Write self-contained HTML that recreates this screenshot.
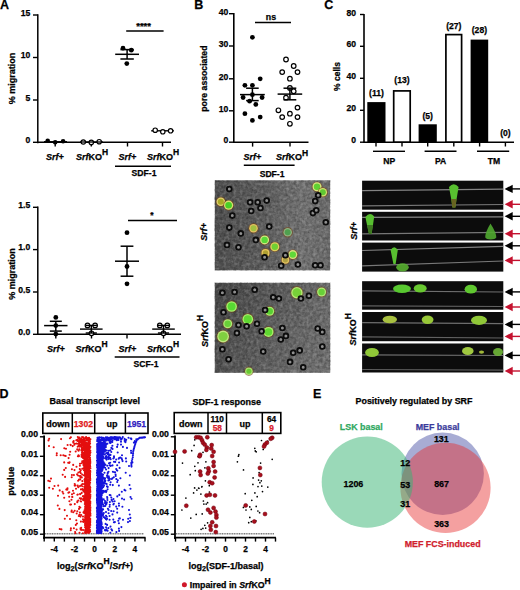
<!DOCTYPE html>
<html><head><meta charset="utf-8"><style>
html,body{margin:0;padding:0;background:#fff;width:520px;height:590px;overflow:hidden}
svg{display:block;font-family:"Liberation Sans",sans-serif;font-weight:bold;font-size:9px}
text{stroke:#000;stroke-width:0.25px}

</style></head><body>
<svg width="520" height="590" viewBox="0 0 520 590">
<defs>
<linearGradient id="mg1" x1="0" y1="0" x2="1" y2="0"><stop offset="0" stop-color="#4e4e4e"/><stop offset="0.45" stop-color="#5e5e5e"/><stop offset="0.75" stop-color="#737373"/><stop offset="1" stop-color="#6c6c6c"/></linearGradient>
<linearGradient id="mg2" x1="0" y1="0" x2="1" y2="0.3"><stop offset="0" stop-color="#444"/><stop offset="0.5" stop-color="#5a5a5a"/><stop offset="1" stop-color="#6e6e6e"/></linearGradient>
<filter id="soft" x="0" y="0" width="100%" height="100%"><feGaussianBlur stdDeviation="0.45"/></filter>
<filter id="noise1" x="0" y="0" width="100%" height="100%"><feTurbulence type="fractalNoise" baseFrequency="0.35" numOctaves="2" seed="3"/><feColorMatrix values="0 0 0 0 0  0 0 0 0 0  0 0 0 0 0  0.55 0 0 0 -0.2"/></filter>
<filter id="noise2" x="0" y="0" width="100%" height="100%"><feTurbulence type="fractalNoise" baseFrequency="0.35" numOctaves="2" seed="9"/><feColorMatrix values="0 0 0 0 0  0 0 0 0 0  0 0 0 0 0  0.55 0 0 0 -0.2"/></filter>
<filter id="noisew1" x="0" y="0" width="100%" height="100%"><feTurbulence type="fractalNoise" baseFrequency="0.3" numOctaves="2" seed="13"/><feColorMatrix values="0 0 0 0 1  0 0 0 0 1  0 0 0 0 1  0.45 0 0 0 -0.19"/></filter>
<filter id="noisew2" x="0" y="0" width="100%" height="100%"><feTurbulence type="fractalNoise" baseFrequency="0.3" numOctaves="2" seed="19"/><feColorMatrix values="0 0 0 0 1  0 0 0 0 1  0 0 0 0 1  0.45 0 0 0 -0.19"/></filter>
</defs>
<text x="0" y="8.6" font-size="12.5">A</text>
<line x1="37.8" y1="14.3" x2="37.8" y2="143.2" stroke="#000" stroke-width="1.5"/>
<line x1="33" y1="15" x2="37.8" y2="15" stroke="#000" stroke-width="1.4"/>
<text x="30.3" y="15.7" text-anchor="end" font-size="8.6">15</text>
<line x1="33" y1="57.5" x2="37.8" y2="57.5" stroke="#000" stroke-width="1.4"/>
<text x="30.3" y="58.2" text-anchor="end" font-size="8.6">10</text>
<line x1="33" y1="100" x2="37.8" y2="100" stroke="#000" stroke-width="1.4"/>
<text x="30.3" y="100.7" text-anchor="end" font-size="8.6">5</text>
<line x1="33" y1="142.3" x2="37.8" y2="142.3" stroke="#000" stroke-width="1.4"/>
<text x="30.3" y="143" text-anchor="end" font-size="8.6">0</text>
<text x="14.8" y="78.4" text-anchor="middle" transform="rotate(-90 14.8 78.4)">% migration</text>
<line x1="37.8" y1="142.3" x2="171" y2="142.3" stroke="#000" stroke-width="1.5"/>
<line x1="55.2" y1="142.3" x2="55.2" y2="146.5" stroke="#000" stroke-width="1.4"/>
<line x1="91.3" y1="142.3" x2="91.3" y2="146.5" stroke="#000" stroke-width="1.4"/>
<line x1="127.5" y1="142.3" x2="127.5" y2="146.5" stroke="#000" stroke-width="1.4"/>
<line x1="162.5" y1="142.3" x2="162.5" y2="146.5" stroke="#000" stroke-width="1.4"/>
<circle cx="47.7" cy="140.8" r="2.3" fill="#000"/>
<circle cx="55.2" cy="142.3" r="2.3" fill="#000"/>
<circle cx="63.1" cy="141.2" r="2.3" fill="#000"/>
<line x1="44" y1="141.8" x2="67" y2="141.8" stroke="#000" stroke-width="1.5"/>
<circle cx="83.3" cy="142" r="2.2" fill="#fff" stroke="#000" stroke-width="1.2"/>
<circle cx="91.3" cy="142.4" r="2.2" fill="#fff" stroke="#000" stroke-width="1.2"/>
<circle cx="99.2" cy="141.7" r="2.2" fill="#fff" stroke="#000" stroke-width="1.2"/>
<line x1="80" y1="142" x2="103" y2="142" stroke="#000" stroke-width="1.3"/>
<line x1="115.2" y1="54.3" x2="139" y2="54.3" stroke="#000" stroke-width="1.5"/>
<line x1="127.1" y1="49.6" x2="127.1" y2="59" stroke="#000" stroke-width="1.5"/>
<line x1="120.4" y1="49.6" x2="133.8" y2="49.6" stroke="#000" stroke-width="1.5"/>
<line x1="120.4" y1="59" x2="133.8" y2="59" stroke="#000" stroke-width="1.5"/>
<circle cx="123" cy="48.2" r="2.4" fill="#000"/>
<circle cx="131.3" cy="50.2" r="2.4" fill="#000"/>
<circle cx="126.8" cy="63.6" r="2.4" fill="#000"/>
<line x1="151.2" y1="130.8" x2="173.8" y2="130.8" stroke="#000" stroke-width="1.4"/>
<circle cx="155.2" cy="130.2" r="2.2" fill="#fff" stroke="#000" stroke-width="1.2"/>
<circle cx="162.8" cy="131.8" r="2.2" fill="#fff" stroke="#000" stroke-width="1.2"/>
<circle cx="170.6" cy="130.8" r="2.2" fill="#fff" stroke="#000" stroke-width="1.2"/>
<line x1="126.2" y1="31" x2="163.6" y2="31" stroke="#000" stroke-width="1.5"/>
<text x="143.6" y="29.2" text-anchor="middle" font-size="9.5">****</text>
<text x="54.8" y="159.6" text-anchor="middle" font-style="italic">Srf+</text>
<text x="92" y="159.6" text-anchor="middle"><tspan font-style="italic">Srf</tspan>KO<tspan dy="-4.5" font-size="8.5">H</tspan></text>
<text x="127.5" y="159.6" text-anchor="middle" font-style="italic">Srf+</text>
<text x="163" y="159.6" text-anchor="middle"><tspan font-style="italic">Srf</tspan>KO<tspan dy="-4.5" font-size="8.5">H</tspan></text>
<line x1="115" y1="166.3" x2="171" y2="166.3" stroke="#000" stroke-width="1.5"/>
<text x="144" y="175.8" text-anchor="middle" font-size="8.6">SDF-1</text>
<line x1="37.8" y1="206.5" x2="37.8" y2="335" stroke="#000" stroke-width="1.5"/>
<line x1="33" y1="207.3" x2="37.8" y2="207.3" stroke="#000" stroke-width="1.4"/>
<text x="30.3" y="208" text-anchor="end" font-size="8.6">1.5</text>
<line x1="33" y1="249.6" x2="37.8" y2="249.6" stroke="#000" stroke-width="1.4"/>
<text x="30.3" y="250.3" text-anchor="end" font-size="8.6">1.0</text>
<line x1="33" y1="292" x2="37.8" y2="292" stroke="#000" stroke-width="1.4"/>
<text x="30.3" y="292.7" text-anchor="end" font-size="8.6">0.5</text>
<line x1="33" y1="334.3" x2="37.8" y2="334.3" stroke="#000" stroke-width="1.4"/>
<text x="30.3" y="335" text-anchor="end" font-size="8.6">0.0</text>
<text x="14.8" y="274" text-anchor="middle" transform="rotate(-90 14.8 274)">% migration</text>
<line x1="37.8" y1="334.2" x2="181" y2="334.2" stroke="#000" stroke-width="1.5"/>
<line x1="55.8" y1="334.2" x2="55.8" y2="338.5" stroke="#000" stroke-width="1.4"/>
<line x1="91.5" y1="334.2" x2="91.5" y2="338.5" stroke="#000" stroke-width="1.4"/>
<line x1="127" y1="334.2" x2="127" y2="338.5" stroke="#000" stroke-width="1.4"/>
<line x1="163.5" y1="334.2" x2="163.5" y2="338.5" stroke="#000" stroke-width="1.4"/>
<line x1="44.1" y1="325.6" x2="67.5" y2="325.6" stroke="#000" stroke-width="1.5"/>
<line x1="55.8" y1="321.3" x2="55.8" y2="331.1" stroke="#000" stroke-width="1.5"/>
<line x1="49.8" y1="321.3" x2="61.8" y2="321.3" stroke="#000" stroke-width="1.5"/>
<line x1="49.8" y1="331.1" x2="61.8" y2="331.1" stroke="#000" stroke-width="1.5"/>
<circle cx="55.8" cy="317.4" r="2.4" fill="#000"/>
<circle cx="55.8" cy="325.6" r="2.4" fill="#000"/>
<circle cx="55.8" cy="334.1" r="2.4" fill="#000"/>
<circle cx="87.5" cy="325.4" r="2.3" fill="#fff" stroke="#000" stroke-width="1.2"/>
<circle cx="95.1" cy="325.4" r="2.3" fill="#fff" stroke="#000" stroke-width="1.2"/>
<circle cx="91.5" cy="333.3" r="2.3" fill="#fff" stroke="#000" stroke-width="1.2"/>
<line x1="80" y1="329.1" x2="102.6" y2="329.1" stroke="#000" stroke-width="1.4"/>
<line x1="91.3" y1="325.4" x2="91.3" y2="333" stroke="#000" stroke-width="1.4"/>
<line x1="85.7" y1="325.4" x2="96.9" y2="325.4" stroke="#000" stroke-width="1.4"/>
<line x1="85.7" y1="333" x2="96.9" y2="333" stroke="#000" stroke-width="1.4"/>
<line x1="115" y1="261.2" x2="139" y2="261.2" stroke="#000" stroke-width="1.5"/>
<line x1="127" y1="246.2" x2="127" y2="276.2" stroke="#000" stroke-width="1.5"/>
<line x1="120.6" y1="246.2" x2="133.4" y2="246.2" stroke="#000" stroke-width="1.5"/>
<line x1="120.6" y1="276.2" x2="133.4" y2="276.2" stroke="#000" stroke-width="1.5"/>
<circle cx="127" cy="232.7" r="2.4" fill="#000"/>
<circle cx="127" cy="266.5" r="2.4" fill="#000"/>
<circle cx="127" cy="283.8" r="2.4" fill="#000"/>
<circle cx="159.8" cy="325.4" r="2.3" fill="#fff" stroke="#000" stroke-width="1.2"/>
<circle cx="167.3" cy="325.4" r="2.3" fill="#fff" stroke="#000" stroke-width="1.2"/>
<circle cx="163.5" cy="333.3" r="2.3" fill="#fff" stroke="#000" stroke-width="1.2"/>
<line x1="152.2" y1="329.1" x2="174.8" y2="329.1" stroke="#000" stroke-width="1.4"/>
<line x1="163.5" y1="325.4" x2="163.5" y2="333" stroke="#000" stroke-width="1.4"/>
<line x1="157.9" y1="325.4" x2="169.1" y2="325.4" stroke="#000" stroke-width="1.4"/>
<line x1="157.9" y1="333" x2="169.1" y2="333" stroke="#000" stroke-width="1.4"/>
<line x1="128" y1="220.4" x2="177" y2="220.4" stroke="#000" stroke-width="1.5"/>
<text x="152" y="217.5" text-anchor="middle" font-size="8.5">*</text>
<text x="55.8" y="351.5" text-anchor="middle" font-style="italic">Srf+</text>
<text x="91.5" y="351.5" text-anchor="middle"><tspan font-style="italic">Srf</tspan>KO<tspan dy="-4.5" font-size="8.5">H</tspan></text>
<text x="127.5" y="351.5" text-anchor="middle" font-style="italic">Srf+</text>
<text x="163" y="351.5" text-anchor="middle"><tspan font-style="italic">Srf</tspan>KO<tspan dy="-4.5" font-size="8.5">H</tspan></text>
<line x1="114.7" y1="357" x2="179.5" y2="357" stroke="#000" stroke-width="1.5"/>
<text x="146" y="366.6" text-anchor="middle" font-size="8.6">SCF-1</text>
<text x="194.2" y="8.7" font-size="12.5">B</text>
<line x1="233.8" y1="13" x2="233.8" y2="143" stroke="#000" stroke-width="1.6"/>
<line x1="229" y1="13.7" x2="233.8" y2="13.7" stroke="#000" stroke-width="1.4"/>
<text x="228.3" y="14.8" text-anchor="end" font-size="8.6">40</text>
<line x1="229" y1="46" x2="233.8" y2="46" stroke="#000" stroke-width="1.4"/>
<text x="228.3" y="47.1" text-anchor="end" font-size="8.6">30</text>
<line x1="229" y1="78.8" x2="233.8" y2="78.8" stroke="#000" stroke-width="1.4"/>
<text x="228.3" y="79.9" text-anchor="end" font-size="8.6">20</text>
<line x1="229" y1="110.8" x2="233.8" y2="110.8" stroke="#000" stroke-width="1.4"/>
<text x="228.3" y="111.9" text-anchor="end" font-size="8.6">10</text>
<line x1="229" y1="142.2" x2="233.8" y2="142.2" stroke="#000" stroke-width="1.4"/>
<text x="228.3" y="143.3" text-anchor="end" font-size="8.6">0</text>
<text x="207.4" y="78.6" text-anchor="middle" font-size="8.7" transform="rotate(-90 207.4 78.6)">pore associated</text>
<line x1="233.8" y1="142.2" x2="308.5" y2="142.2" stroke="#000" stroke-width="1.5"/>
<line x1="252.6" y1="142.2" x2="252.6" y2="146.6" stroke="#000" stroke-width="1.4"/>
<line x1="290" y1="142.2" x2="290" y2="146.6" stroke="#000" stroke-width="1.4"/>
<line x1="240" y1="94.6" x2="264.8" y2="94.6" stroke="#000" stroke-width="1.5"/>
<line x1="252.4" y1="88.2" x2="252.4" y2="100.6" stroke="#000" stroke-width="1.5"/>
<line x1="246.1" y1="88.2" x2="258.7" y2="88.2" stroke="#000" stroke-width="1.5"/>
<line x1="246.1" y1="100.6" x2="258.7" y2="100.6" stroke="#000" stroke-width="1.5"/>
<circle cx="252.4" cy="37.3" r="2.4" fill="#000"/>
<circle cx="260.2" cy="78.8" r="2.4" fill="#000"/>
<circle cx="244.9" cy="85.3" r="2.4" fill="#000"/>
<circle cx="252.4" cy="85.3" r="2.4" fill="#000"/>
<circle cx="243.1" cy="97.5" r="2.4" fill="#000"/>
<circle cx="252.4" cy="94.7" r="2.4" fill="#000"/>
<circle cx="262.1" cy="97.5" r="2.4" fill="#000"/>
<circle cx="249.6" cy="101.2" r="2.4" fill="#000"/>
<circle cx="255.8" cy="104.4" r="2.4" fill="#000"/>
<circle cx="244.9" cy="113.7" r="2.4" fill="#000"/>
<circle cx="260.2" cy="117.1" r="2.4" fill="#000"/>
<circle cx="252.4" cy="120.4" r="2.4" fill="#000"/>
<circle cx="286" cy="59.5" r="2.3" fill="#fff" stroke="#000" stroke-width="1.2"/>
<circle cx="293.7" cy="66" r="2.3" fill="#fff" stroke="#000" stroke-width="1.2"/>
<circle cx="282.2" cy="72.1" r="2.3" fill="#fff" stroke="#000" stroke-width="1.2"/>
<circle cx="297.5" cy="72.1" r="2.3" fill="#fff" stroke="#000" stroke-width="1.2"/>
<circle cx="289.9" cy="78.7" r="2.3" fill="#fff" stroke="#000" stroke-width="1.2"/>
<circle cx="289.9" cy="87.9" r="2.3" fill="#fff" stroke="#000" stroke-width="1.2"/>
<circle cx="293.7" cy="91.3" r="2.3" fill="#fff" stroke="#000" stroke-width="1.2"/>
<circle cx="286" cy="97.7" r="2.3" fill="#fff" stroke="#000" stroke-width="1.2"/>
<circle cx="278.4" cy="110.3" r="2.3" fill="#fff" stroke="#000" stroke-width="1.2"/>
<circle cx="297.5" cy="107.6" r="2.3" fill="#fff" stroke="#000" stroke-width="1.2"/>
<circle cx="282.2" cy="117.1" r="2.3" fill="#fff" stroke="#000" stroke-width="1.2"/>
<circle cx="289.9" cy="113.7" r="2.3" fill="#fff" stroke="#000" stroke-width="1.2"/>
<circle cx="297.5" cy="117.1" r="2.3" fill="#fff" stroke="#000" stroke-width="1.2"/>
<circle cx="289.9" cy="123.8" r="2.3" fill="#fff" stroke="#000" stroke-width="1.2"/>
<line x1="277.6" y1="94.1" x2="302.2" y2="94.1" stroke="#000" stroke-width="1.5"/>
<line x1="289.9" y1="88.2" x2="289.9" y2="99.8" stroke="#000" stroke-width="1.5"/>
<line x1="283.5" y1="88.2" x2="296.3" y2="88.2" stroke="#000" stroke-width="1.5"/>
<line x1="283.5" y1="99.8" x2="296.3" y2="99.8" stroke="#000" stroke-width="1.5"/>
<line x1="255" y1="22.6" x2="291" y2="22.6" stroke="#000" stroke-width="1.5"/>
<text x="271" y="19.5" text-anchor="middle" font-size="8.8">ns</text>
<text x="252.5" y="160" text-anchor="middle" font-style="italic">Srf+</text>
<text x="292" y="160" text-anchor="middle"><tspan font-style="italic">Srf</tspan>KO<tspan dy="-4.5" font-size="8.5">H</tspan></text>
<line x1="243.8" y1="165.3" x2="294.6" y2="165.3" stroke="#000" stroke-width="1.5"/>
<text x="272.1" y="177.2" text-anchor="middle" font-size="8.6">SDF-1</text>
<text x="324.3" y="8.7" font-size="12.5">C</text>
<line x1="364" y1="14" x2="364" y2="143" stroke="#000" stroke-width="1.6"/>
<line x1="360" y1="14.5" x2="364" y2="14.5" stroke="#000" stroke-width="1.4"/>
<text x="356" y="15.5" text-anchor="end" font-size="8.6">80</text>
<line x1="360" y1="46.3" x2="364" y2="46.3" stroke="#000" stroke-width="1.4"/>
<text x="356" y="47.3" text-anchor="end" font-size="8.6">60</text>
<line x1="360" y1="78.3" x2="364" y2="78.3" stroke="#000" stroke-width="1.4"/>
<text x="356" y="79.3" text-anchor="end" font-size="8.6">40</text>
<line x1="360" y1="110.3" x2="364" y2="110.3" stroke="#000" stroke-width="1.4"/>
<text x="356" y="111.3" text-anchor="end" font-size="8.6">20</text>
<line x1="360" y1="142.2" x2="364" y2="142.2" stroke="#000" stroke-width="1.4"/>
<text x="356" y="143.2" text-anchor="end" font-size="8.6">0</text>
<text x="340.2" y="76.5" text-anchor="middle" font-size="8.5" transform="rotate(-90 340.2 76.5)">% cells</text>
<line x1="364" y1="142.2" x2="514" y2="142.2" stroke="#000" stroke-width="1.5"/>
<rect x="367.3" y="102.1" width="18.2" height="40.1" fill="#000"/>
<text x="376.5" y="95.7" text-anchor="middle" font-size="8.6">(11)</text>
<rect x="393.7" y="90.9" width="16.5" height="51.2" fill="#fff" stroke="#000" stroke-width="1.7"/>
<text x="402" y="82.6" text-anchor="middle" font-size="8.6">(13)</text>
<rect x="418.6" y="124.3" width="18.2" height="17.9" fill="#000"/>
<text x="427.7" y="118.8" text-anchor="middle" font-size="8.6">(5)</text>
<rect x="445.9" y="34.6" width="15.7" height="107.5" fill="#fff" stroke="#000" stroke-width="1.7"/>
<text x="453.8" y="29.3" text-anchor="middle" font-size="8.6">(27)</text>
<rect x="470.6" y="39.6" width="17.6" height="102.6" fill="#000"/>
<text x="479.4" y="33" text-anchor="middle" font-size="8.6">(28)</text>
<text x="505.4" y="135.5" text-anchor="middle" font-size="8.6">(0)</text>
<line x1="376" y1="142.2" x2="376" y2="146.5" stroke="#000" stroke-width="1.4"/>
<line x1="402" y1="142.2" x2="402" y2="146.5" stroke="#000" stroke-width="1.4"/>
<line x1="427.7" y1="142.2" x2="427.7" y2="146.5" stroke="#000" stroke-width="1.4"/>
<line x1="453.8" y1="142.2" x2="453.8" y2="146.5" stroke="#000" stroke-width="1.4"/>
<line x1="479.6" y1="142.2" x2="479.6" y2="146.5" stroke="#000" stroke-width="1.4"/>
<line x1="505.4" y1="142.2" x2="505.4" y2="146.5" stroke="#000" stroke-width="1.4"/>
<line x1="373" y1="151.3" x2="405" y2="151.3" stroke="#000" stroke-width="1.4"/>
<text x="389.2" y="163.7" text-anchor="middle" font-size="8.6">NP</text>
<line x1="424.6" y1="151.3" x2="456.5" y2="151.3" stroke="#000" stroke-width="1.4"/>
<text x="440.6" y="163.7" text-anchor="middle" font-size="8.6">PA</text>
<line x1="477" y1="151.3" x2="509.2" y2="151.3" stroke="#000" stroke-width="1.4"/>
<text x="494" y="163.7" text-anchor="middle" font-size="8.6">TM</text>
<g filter="url(#soft)">
<rect x="214.8" y="180.3" width="115.3" height="90" fill="url(#mg1)"/>
<rect x="214.8" y="180.3" width="115.3" height="90" filter="url(#noise1)"/>
<rect x="214.8" y="180.3" width="115.3" height="90" filter="url(#noisew1)"/>
<circle cx="220.8" cy="201.8" r="5.2" fill="#7a4818" opacity="0.6"/>
<circle cx="220.8" cy="201.8" r="4.3" fill="#e0d070"/>
<circle cx="220.8" cy="201.8" r="3" fill="#a8a828"/>
<circle cx="228.6" cy="205.2" r="5.5" fill="#7a4818" opacity="0.6"/>
<circle cx="228.6" cy="205.2" r="4.6" fill="#d8e070"/>
<circle cx="228.6" cy="205.2" r="3.3" fill="#48d028"/>
<circle cx="253.5" cy="228.3" r="5.2" fill="#7a4818" opacity="0.6"/>
<circle cx="253.5" cy="228.3" r="4.3" fill="#e0c060"/>
<circle cx="253.5" cy="228.3" r="3" fill="#a0c040"/>
<circle cx="264.6" cy="239.9" r="5.4" fill="#7a4818" opacity="0.6"/>
<circle cx="264.6" cy="239.9" r="4.5" fill="#d0e880"/>
<circle cx="264.6" cy="239.9" r="3.2" fill="#58d838"/>
<circle cx="274.8" cy="246.8" r="5.4" fill="#7a4818" opacity="0.6"/>
<circle cx="274.8" cy="246.8" r="4.5" fill="#e0d060"/>
<circle cx="274.8" cy="246.8" r="3.2" fill="#70d030"/>
<circle cx="265.5" cy="253" r="4.9" fill="#7a4818" opacity="0.6"/>
<circle cx="265.5" cy="253" r="4" fill="#e8c860"/>
<circle cx="265.5" cy="253" r="2.7" fill="#b0a030"/>
<circle cx="287.7" cy="232.2" r="5.2" fill="#7a4818" opacity="0.6"/>
<circle cx="287.7" cy="232.2" r="4.3" fill="#90b080"/>
<circle cx="287.7" cy="232.2" r="3" fill="#50a050"/>
<circle cx="292.8" cy="254.6" r="5.4" fill="#7a4818" opacity="0.6"/>
<circle cx="292.8" cy="254.6" r="4.5" fill="#d8e080"/>
<circle cx="292.8" cy="254.6" r="3.2" fill="#60d838"/>
<circle cx="285.4" cy="259.9" r="4.7" fill="#7a4818" opacity="0.6"/>
<circle cx="285.4" cy="259.9" r="3.8" fill="#e0c060"/>
<circle cx="285.4" cy="259.9" r="2.5" fill="#b0a040"/>
<circle cx="317" cy="186.8" r="5.4" fill="#7a4818" opacity="0.6"/>
<circle cx="317" cy="186.8" r="4.5" fill="#d8e880"/>
<circle cx="317" cy="186.8" r="3.2" fill="#60d030"/>
<circle cx="322.8" cy="192.3" r="5.2" fill="#7a4818" opacity="0.6"/>
<circle cx="322.8" cy="192.3" r="4.3" fill="#d0e070"/>
<circle cx="322.8" cy="192.3" r="3" fill="#60c830"/>
<circle cx="229.3" cy="189.1" r="2.4" fill="#909090" stroke="#0a0a0a" stroke-width="1.8"/>
<circle cx="250.1" cy="202.2" r="2.4" fill="#909090" stroke="#0a0a0a" stroke-width="1.8"/>
<circle cx="257.7" cy="202.2" r="2.4" fill="#909090" stroke="#0a0a0a" stroke-width="1.8"/>
<circle cx="266.7" cy="200.6" r="2.4" fill="#909090" stroke="#0a0a0a" stroke-width="1.8"/>
<circle cx="260.5" cy="208" r="2.4" fill="#909090" stroke="#0a0a0a" stroke-width="1.8"/>
<circle cx="251.2" cy="211" r="2.4" fill="#909090" stroke="#0a0a0a" stroke-width="1.8"/>
<circle cx="232.3" cy="215.6" r="2.4" fill="#909090" stroke="#0a0a0a" stroke-width="1.8"/>
<circle cx="229.3" cy="227.6" r="2.4" fill="#909090" stroke="#0a0a0a" stroke-width="1.8"/>
<circle cx="240.8" cy="233.4" r="2.4" fill="#909090" stroke="#0a0a0a" stroke-width="1.8"/>
<circle cx="255.8" cy="239.9" r="2.4" fill="#909090" stroke="#0a0a0a" stroke-width="1.8"/>
<circle cx="269.2" cy="226.5" r="2.4" fill="#909090" stroke="#0a0a0a" stroke-width="1.8"/>
<circle cx="227" cy="244.9" r="2.4" fill="#909090" stroke="#0a0a0a" stroke-width="1.8"/>
<circle cx="238.5" cy="247.2" r="2.4" fill="#909090" stroke="#0a0a0a" stroke-width="1.8"/>
<circle cx="264.6" cy="257.2" r="2.4" fill="#909090" stroke="#0a0a0a" stroke-width="1.8"/>
<circle cx="285.4" cy="255.3" r="2.4" fill="#909090" stroke="#0a0a0a" stroke-width="1.8"/>
<circle cx="281.2" cy="265.7" r="2.4" fill="#909090" stroke="#0a0a0a" stroke-width="1.8"/>
<circle cx="297.9" cy="264.5" r="2.4" fill="#909090" stroke="#0a0a0a" stroke-width="1.8"/>
<circle cx="315.2" cy="265.2" r="2.4" fill="#909090" stroke="#0a0a0a" stroke-width="1.8"/>
<circle cx="320.5" cy="265.2" r="2.4" fill="#909090" stroke="#0a0a0a" stroke-width="1.8"/>
<circle cx="315.2" cy="201.1" r="2.4" fill="#909090" stroke="#0a0a0a" stroke-width="1.8"/>
<circle cx="312.9" cy="213.1" r="2.4" fill="#909090" stroke="#0a0a0a" stroke-width="1.8"/>
<circle cx="316.3" cy="210.3" r="2.4" fill="#909090" stroke="#0a0a0a" stroke-width="1.8"/>
<circle cx="325.8" cy="222.3" r="2.4" fill="#909090" stroke="#0a0a0a" stroke-width="1.8"/>
<circle cx="318.2" cy="195.3" r="2.4" fill="#909090" stroke="#0a0a0a" stroke-width="1.8"/>
</g>
<g filter="url(#soft)">
<rect x="214.8" y="282.8" width="115.4" height="90" fill="url(#mg2)"/>
<rect x="214.8" y="282.8" width="115.4" height="90" filter="url(#noise2)"/>
<rect x="214.8" y="282.8" width="115.4" height="90" filter="url(#noisew2)"/>
<circle cx="231.6" cy="306.5" r="6.2" fill="#7a4818" opacity="0.6"/>
<circle cx="231.6" cy="306.5" r="5.3" fill="#a8f070"/>
<circle cx="231.6" cy="306.5" r="4" fill="#58d830"/>
<circle cx="247.8" cy="319.2" r="6.2" fill="#7a4818" opacity="0.6"/>
<circle cx="247.8" cy="319.2" r="5.3" fill="#a8f070"/>
<circle cx="247.8" cy="319.2" r="4" fill="#60d830"/>
<circle cx="227.7" cy="323.8" r="5.4" fill="#7a4818" opacity="0.6"/>
<circle cx="227.7" cy="323.8" r="4.5" fill="#b0e878"/>
<circle cx="227.7" cy="323.8" r="3.2" fill="#68d038"/>
<circle cx="223.1" cy="336.5" r="6.8" fill="#7a4818" opacity="0.6"/>
<circle cx="223.1" cy="336.5" r="5.9" fill="#c0e880"/>
<circle cx="223.1" cy="336.5" r="4.6" fill="#80d040"/>
<circle cx="269.7" cy="311.2" r="5.4" fill="#7a4818" opacity="0.6"/>
<circle cx="269.7" cy="311.2" r="4.5" fill="#a8e870"/>
<circle cx="269.7" cy="311.2" r="3.2" fill="#58d030"/>
<circle cx="268.5" cy="331.9" r="5.9" fill="#7a4818" opacity="0.6"/>
<circle cx="268.5" cy="331.9" r="5" fill="#a8f070"/>
<circle cx="268.5" cy="331.9" r="3.7" fill="#60d830"/>
<circle cx="296.9" cy="292.7" r="6.6" fill="#7a4818" opacity="0.6"/>
<circle cx="296.9" cy="292.7" r="5.7" fill="#b8e878"/>
<circle cx="296.9" cy="292.7" r="4.4" fill="#78d038"/>
<circle cx="321.6" cy="292" r="5.4" fill="#7a4818" opacity="0.6"/>
<circle cx="321.6" cy="292" r="4.5" fill="#b0e878"/>
<circle cx="321.6" cy="292" r="3.2" fill="#68d038"/>
<circle cx="248.9" cy="371.2" r="4.7" fill="#7a4818" opacity="0.6"/>
<circle cx="248.9" cy="371.2" r="3.8" fill="#a8e070"/>
<circle cx="248.9" cy="371.2" r="2.5" fill="#68c830"/>
<circle cx="222.4" cy="292.7" r="2.4" fill="#909090" stroke="#0a0a0a" stroke-width="1.8"/>
<circle cx="234.6" cy="292" r="2.4" fill="#909090" stroke="#0a0a0a" stroke-width="1.8"/>
<circle cx="254.7" cy="289.7" r="2.4" fill="#909090" stroke="#0a0a0a" stroke-width="1.8"/>
<circle cx="273.2" cy="297.3" r="2.4" fill="#909090" stroke="#0a0a0a" stroke-width="1.8"/>
<circle cx="278.9" cy="298.5" r="2.4" fill="#909090" stroke="#0a0a0a" stroke-width="1.8"/>
<circle cx="308.9" cy="295.7" r="2.4" fill="#909090" stroke="#0a0a0a" stroke-width="1.8"/>
<circle cx="300.9" cy="298.5" r="2.4" fill="#909090" stroke="#0a0a0a" stroke-width="1.8"/>
<circle cx="223.5" cy="312.3" r="2.4" fill="#909090" stroke="#0a0a0a" stroke-width="1.8"/>
<circle cx="265.1" cy="310" r="2.4" fill="#909090" stroke="#0a0a0a" stroke-width="1.8"/>
<circle cx="238.5" cy="325" r="2.4" fill="#909090" stroke="#0a0a0a" stroke-width="1.8"/>
<circle cx="257" cy="323.8" r="2.4" fill="#909090" stroke="#0a0a0a" stroke-width="1.8"/>
<circle cx="236.9" cy="333.1" r="2.4" fill="#909090" stroke="#0a0a0a" stroke-width="1.8"/>
<circle cx="246.6" cy="326.2" r="2.4" fill="#909090" stroke="#0a0a0a" stroke-width="1.8"/>
<circle cx="261.6" cy="331.2" r="2.4" fill="#909090" stroke="#0a0a0a" stroke-width="1.8"/>
<circle cx="282.4" cy="328" r="2.4" fill="#909090" stroke="#0a0a0a" stroke-width="1.8"/>
<circle cx="285.9" cy="335.9" r="2.4" fill="#909090" stroke="#0a0a0a" stroke-width="1.8"/>
<circle cx="280.8" cy="339.5" r="2.4" fill="#909090" stroke="#0a0a0a" stroke-width="1.8"/>
<circle cx="317.7" cy="328.5" r="2.4" fill="#909090" stroke="#0a0a0a" stroke-width="1.8"/>
<circle cx="322.3" cy="331.9" r="2.4" fill="#909090" stroke="#0a0a0a" stroke-width="1.8"/>
<circle cx="222.4" cy="349.2" r="2.4" fill="#909090" stroke="#0a0a0a" stroke-width="1.8"/>
<circle cx="263.2" cy="351.5" r="2.4" fill="#909090" stroke="#0a0a0a" stroke-width="1.8"/>
<circle cx="293.2" cy="352.7" r="2.4" fill="#909090" stroke="#0a0a0a" stroke-width="1.8"/>
<circle cx="299.7" cy="350.4" r="2.4" fill="#909090" stroke="#0a0a0a" stroke-width="1.8"/>
<circle cx="228.6" cy="359.2" r="2.4" fill="#909090" stroke="#0a0a0a" stroke-width="1.8"/>
<circle cx="290" cy="361.9" r="2.4" fill="#909090" stroke="#0a0a0a" stroke-width="1.8"/>
<circle cx="303.2" cy="367.2" r="2.4" fill="#909090" stroke="#0a0a0a" stroke-width="1.8"/>
<circle cx="322.3" cy="346.5" r="2.4" fill="#909090" stroke="#0a0a0a" stroke-width="1.8"/>
</g>
<text transform="rotate(-90 207.5 231.8)" x="207.5" y="231.8" text-anchor="middle" font-style="italic">Srf+</text>
<text transform="rotate(-90 207.5 331)" x="207.5" y="331" text-anchor="middle"><tspan font-style="italic">Srf</tspan>KO<tspan dy="-4.5" font-size="8.5">H</tspan></text>
<g>
<rect x="362.1" y="180.7" width="141.2" height="29" fill="#0c0c0c"/>
<rect x="362.1" y="211.8" width="141.2" height="28.7" fill="#0c0c0c"/>
<rect x="362.1" y="242.6" width="141.2" height="29" fill="#0c0c0c"/>
<rect x="362.1" y="281.2" width="141.2" height="28.5" fill="#0c0c0c"/>
<rect x="362.1" y="312" width="141.2" height="29.2" fill="#0c0c0c"/>
<rect x="362.1" y="343.5" width="141.2" height="29" fill="#0c0c0c"/>
<line x1="362.1" y1="190.6" x2="503.3" y2="189.2" stroke="#9a9a9a" stroke-width="1.2" opacity="0.85"/>
<line x1="362.1" y1="205.9" x2="503.3" y2="204.5" stroke="#8a8a8a" stroke-width="1.2" opacity="0.85"/>
<line x1="362.1" y1="217.3" x2="503.3" y2="216.8" stroke="#9a9a9a" stroke-width="1.2" opacity="0.85"/>
<line x1="362.1" y1="233.8" x2="503.3" y2="232.4" stroke="#8a8a8a" stroke-width="1.2" opacity="0.85"/>
<line x1="362.1" y1="250.5" x2="503.3" y2="246.3" stroke="#9a9a9a" stroke-width="1.2" opacity="0.85"/>
<line x1="362.1" y1="265.8" x2="503.3" y2="261" stroke="#8a8a8a" stroke-width="1.2" opacity="0.85"/>
<line x1="362.1" y1="290.8" x2="503.3" y2="292" stroke="#808080" stroke-width="1.2" opacity="0.85"/>
<line x1="362.1" y1="305.9" x2="503.3" y2="306.5" stroke="#707070" stroke-width="1.2" opacity="0.85"/>
<line x1="362.1" y1="322.6" x2="503.3" y2="323.6" stroke="#808080" stroke-width="1.2" opacity="0.85"/>
<line x1="362.1" y1="336.8" x2="503.3" y2="338" stroke="#707070" stroke-width="1.2" opacity="0.85"/>
<line x1="362.1" y1="354.8" x2="503.3" y2="355.5" stroke="#808080" stroke-width="1.2" opacity="0.85"/>
<line x1="362.1" y1="369.5" x2="503.3" y2="370.2" stroke="#6a6a6a" stroke-width="1.2" opacity="0.85"/>
</g>
<path d="M449 187 Q453.8 181.5 458.6 187 L456.6 199 L455.4 207.5 L452.4 207.5 L451.2 199 Z" fill="#58c030"/>
<path d="M451.3 199 L456.5 199 L455.4 207.5 L452.4 207.5 Z" fill="#6a5a20" opacity="0.9"/>
<path d="M365.4 217 Q369.8 211.5 374.2 216.5 L373 225 L371.5 234 L369 234 L367 225 Z" fill="#58c030"/>
<path d="M367 225 L373 225 L371.5 234 L369 234 Z" fill="#3c7020" opacity="0.9"/>
<path d="M490.5 223.5 C492.5 227 496.5 233 496.3 237.5 C495.5 240 486 240 485.3 237.5 C485 233 488.5 227 490.5 223.5 Z" fill="#50a830" opacity="0.9"/>
<path d="M390.6 250 Q394.2 244.5 397.8 250 L396.6 258 L395.6 264 L393.4 264 L392.2 258 Z" fill="#58c030"/>
<ellipse cx="402.5" cy="267.3" rx="6.3" ry="4.1" fill="#58b030" opacity="0.9"/>
<ellipse cx="402" cy="288.8" rx="9" ry="4.2" fill="#58c830" opacity="1"/>
<ellipse cx="420.2" cy="288.4" rx="6.5" ry="4.2" fill="#68c830" opacity="1"/>
<ellipse cx="470.8" cy="289.2" rx="6.2" ry="4.4" fill="#60c830" opacity="1"/>
<ellipse cx="389.8" cy="319.5" rx="7.2" ry="3.8" fill="#a8c040" opacity="1"/>
<ellipse cx="427.6" cy="319.8" rx="5.9" ry="4.2" fill="#98c838" opacity="1"/>
<ellipse cx="479" cy="320.3" rx="8" ry="4.6" fill="#90c838" opacity="1"/>
<ellipse cx="372" cy="352.5" rx="6.9" ry="4.5" fill="#90c838" opacity="1"/>
<ellipse cx="467.8" cy="351" rx="5.8" ry="4" fill="#a0c840" opacity="1"/>
<ellipse cx="481.5" cy="352.1" rx="2.6" ry="1.6" fill="#a0b838" opacity="1"/>
<ellipse cx="498" cy="352" rx="5" ry="4" fill="#70b838" opacity="0.9"/>
<path d="M504.6 188.9 L512.7 184.7 L512.7 193.1 Z" fill="#000"/>
<line x1="512" y1="188.9" x2="520" y2="188.9" stroke="#000" stroke-width="1.4"/>
<path d="M504.6 216.3 L512.7 212.1 L512.7 220.5 Z" fill="#000"/>
<line x1="512" y1="216.3" x2="520" y2="216.3" stroke="#000" stroke-width="1.4"/>
<path d="M504.6 245.8 L512.7 241.6 L512.7 250 Z" fill="#000"/>
<line x1="512" y1="245.8" x2="520" y2="245.8" stroke="#000" stroke-width="1.4"/>
<path d="M504.6 291.9 L512.7 287.7 L512.7 296.1 Z" fill="#000"/>
<line x1="512" y1="291.9" x2="520" y2="291.9" stroke="#000" stroke-width="1.4"/>
<path d="M504.6 324.4 L512.7 320.2 L512.7 328.6 Z" fill="#000"/>
<line x1="512" y1="324.4" x2="520" y2="324.4" stroke="#000" stroke-width="1.4"/>
<path d="M504.6 355.4 L512.7 351.2 L512.7 359.6 Z" fill="#000"/>
<line x1="512" y1="355.4" x2="520" y2="355.4" stroke="#000" stroke-width="1.4"/>
<path d="M504.6 204.3 L512.7 200.1 L512.7 208.5 Z" fill="#c4122f"/>
<line x1="512" y1="204.3" x2="520" y2="204.3" stroke="#c4122f" stroke-width="1.4"/>
<path d="M504.6 233.7 L512.7 229.5 L512.7 237.9 Z" fill="#c4122f"/>
<line x1="512" y1="233.7" x2="520" y2="233.7" stroke="#c4122f" stroke-width="1.4"/>
<path d="M504.6 260.4 L512.7 256.2 L512.7 264.6 Z" fill="#c4122f"/>
<line x1="512" y1="260.4" x2="520" y2="260.4" stroke="#c4122f" stroke-width="1.4"/>
<path d="M504.6 307 L512.7 302.8 L512.7 311.2 Z" fill="#c4122f"/>
<line x1="512" y1="307" x2="520" y2="307" stroke="#c4122f" stroke-width="1.4"/>
<path d="M504.6 336.4 L512.7 332.2 L512.7 340.6 Z" fill="#c4122f"/>
<line x1="512" y1="336.4" x2="520" y2="336.4" stroke="#c4122f" stroke-width="1.4"/>
<path d="M504.6 371 L512.7 366.8 L512.7 375.2 Z" fill="#c4122f"/>
<line x1="512" y1="371" x2="520" y2="371" stroke="#c4122f" stroke-width="1.4"/>
<text transform="rotate(-90 357 230.8)" x="357" y="230.8" text-anchor="middle" font-style="italic">Srf+</text>
<text transform="rotate(-90 355.8 329.3)" x="355.8" y="329.3" text-anchor="middle"><tspan font-style="italic">Srf</tspan>KO<tspan dy="-4.5" font-size="8.5">H</tspan></text>
<text x="-0.4" y="397.8" font-size="12.5">D</text>
<text x="94.8" y="404.2" text-anchor="middle">Basal transcript level</text>
<rect x="42.8" y="413" width="105.2" height="20.4" fill="none" stroke="#000" stroke-width="1.6"/>
<line x1="72.3" y1="413" x2="72.3" y2="433.4" stroke="#000" stroke-width="1.5"/>
<line x1="94.7" y1="413" x2="94.7" y2="433.4" stroke="#000" stroke-width="1.5"/>
<line x1="125.4" y1="413" x2="125.4" y2="433.4" stroke="#000" stroke-width="1.5"/>
<text x="58" y="426.6" text-anchor="middle">down</text>
<text x="83.4" y="426.8" fill="#e0201c" style="stroke:#e0201c" text-anchor="middle" font-size="8.6">1302</text>
<text x="112" y="426.6" text-anchor="middle">up</text>
<text x="136.5" y="426.8" fill="#3020c0" style="stroke:#3020c0" text-anchor="middle" font-size="8.6">1951</text>
<line x1="44.1" y1="435.5" x2="44.1" y2="539" stroke="#000" stroke-width="1.8"/>
<line x1="39.9" y1="436.8" x2="44.1" y2="436.8" stroke="#000" stroke-width="1.4"/>
<text x="38" y="437.4" text-anchor="end" font-size="8.7">0.00</text>
<line x1="39.9" y1="456.3" x2="44.1" y2="456.3" stroke="#000" stroke-width="1.4"/>
<text x="38" y="456.9" text-anchor="end" font-size="8.7">0.01</text>
<line x1="39.9" y1="475.8" x2="44.1" y2="475.8" stroke="#000" stroke-width="1.4"/>
<text x="38" y="476.4" text-anchor="end" font-size="8.7">0.02</text>
<line x1="39.9" y1="495.2" x2="44.1" y2="495.2" stroke="#000" stroke-width="1.4"/>
<text x="38" y="495.8" text-anchor="end" font-size="8.7">0.03</text>
<line x1="39.9" y1="514.7" x2="44.1" y2="514.7" stroke="#000" stroke-width="1.4"/>
<text x="38" y="515.3" text-anchor="end" font-size="8.7">0.04</text>
<line x1="39.9" y1="534.2" x2="44.1" y2="534.2" stroke="#000" stroke-width="1.4"/>
<text x="38" y="534.8" text-anchor="end" font-size="8.7">0.05</text>
<line x1="43.2" y1="537.6" x2="145.5" y2="537.6" stroke="#000" stroke-width="1.8"/>
<line x1="44.2" y1="537.6" x2="44.2" y2="541.6" stroke="#000" stroke-width="1.4"/>
<line x1="54.3" y1="537.6" x2="54.3" y2="541.6" stroke="#000" stroke-width="1.4"/>
<line x1="64.4" y1="537.6" x2="64.4" y2="541.6" stroke="#000" stroke-width="1.4"/>
<line x1="74.4" y1="537.6" x2="74.4" y2="541.6" stroke="#000" stroke-width="1.4"/>
<line x1="84.5" y1="537.6" x2="84.5" y2="541.6" stroke="#000" stroke-width="1.4"/>
<line x1="94.6" y1="537.6" x2="94.6" y2="541.6" stroke="#000" stroke-width="1.4"/>
<line x1="104.7" y1="537.6" x2="104.7" y2="541.6" stroke="#000" stroke-width="1.4"/>
<line x1="114.8" y1="537.6" x2="114.8" y2="541.6" stroke="#000" stroke-width="1.4"/>
<line x1="124.8" y1="537.6" x2="124.8" y2="541.6" stroke="#000" stroke-width="1.4"/>
<line x1="134.9" y1="537.6" x2="134.9" y2="541.6" stroke="#000" stroke-width="1.4"/>
<line x1="145" y1="537.6" x2="145" y2="541.6" stroke="#000" stroke-width="1.4"/>
<text x="54.3" y="551.8" text-anchor="middle" font-size="8.3">-4</text>
<text x="74.4" y="551.8" text-anchor="middle" font-size="8.3">-2</text>
<text x="94.6" y="551.8" text-anchor="middle" font-size="8.3">0</text>
<text x="114.8" y="551.8" text-anchor="middle" font-size="8.3">2</text>
<text x="134.9" y="551.8" text-anchor="middle" font-size="8.3">4</text>
<line x1="45.1" y1="533.8" x2="144" y2="533.8" stroke="#7a7a7a" stroke-width="1.5" stroke-dasharray="1.1 0.6"/>
<text x="14.2" y="481.2" text-anchor="middle" font-size="9.2" transform="rotate(-90 14.2 481.2)">pvalue</text>
<text x="95" y="568.5" text-anchor="middle" font-size="9">log<tspan font-size="7.3" dy="2.8">2</tspan><tspan dy="-2.8">(</tspan><tspan font-style="italic">Srf</tspan>KO<tspan dy="-4.5" font-size="8.5">H</tspan><tspan dy="4.5">/</tspan><tspan font-style="italic">Srf+</tspan>)</text>
<path d="M86.1 449.4h0M85.1 494.9h0M89.8 451.2h0M81.9 443.8h0M88.4 528.3h0M87.5 472.5h0M86.5 500.8h0M88.6 450.3h0M87.8 501.6h0M88 515.7h0M86.1 531.5h0M87.6 490.3h0M87.9 471h0M89 459.7h0M85.7 520.5h0M86.3 482h0M89.4 445h0M85.5 478.4h0M86.1 501.8h0M86.2 523.8h0M81.8 440.2h0M87.1 470.3h0M88.8 524.3h0M84.3 469.7h0M90.4 452.4h0M88.6 481.3h0M80.6 442.3h0M88.2 518.5h0M86 466.7h0M82.7 445.6h0M88.6 439.4h0M85.4 481.9h0M86.1 508.2h0M86.4 443h0M85.1 523.3h0M86 514.5h0M81.3 445.9h0M88.6 465.2h0M89.6 484.5h0M85.4 457.9h0M90.3 461.9h0M86.8 527.6h0M86.5 479h0M85.2 508.9h0M84.5 443.5h0M89.3 460.6h0M87.9 508.4h0M88.7 500.7h0M90 512.2h0M87.3 451.4h0M85.8 450.8h0M89.8 512.7h0M85.2 510.1h0M85.3 471.6h0M85.8 533.2h0M85.9 460.5h0M89.1 442.9h0M85.8 498.3h0M85.2 485h0M86.2 495.8h0M81 440.7h0M88.4 490.5h0M88.2 468.3h0M85.1 470.9h0M86.6 467.4h0M85.6 524.9h0M86.3 445.3h0M89.9 529.8h0M85.3 504.4h0M88.7 514.7h0M86 450.9h0M88.4 441.7h0M89.3 506.2h0M86.4 510.2h0M86.3 513.1h0M85.3 450.3h0M86.4 484.9h0M88.2 495.3h0M87.8 460.1h0M88.8 471.4h0M89.1 465h0M87.8 477h0M87.8 501.8h0M90.3 461.8h0M84.2 446.3h0M85 489.9h0M88.8 451.9h0M88.4 512.5h0M89.1 523.8h0M88.1 465.8h0M88.9 469.7h0M85.4 474.1h0M88.7 521.4h0M88 508.7h0M87.4 512.4h0M85.2 491.5h0M89.4 490.5h0M89.3 504.9h0M89.7 484.8h0M89.3 447.4h0M84.9 472.8h0M87.4 496.6h0M89.5 478.3h0M87.2 450.3h0M87.6 476.8h0M85.6 485.1h0M89.6 486.3h0M82.6 453.5h0M85.1 443.5h0M85.2 530.8h0M87.9 532.4h0M85.3 448.6h0M88.3 457h0M86.5 489.1h0M89.5 461.6h0M87.4 510.8h0M88.9 476.1h0M85.4 530.5h0M85.3 452.3h0M85.2 485.9h0M82.4 442.2h0M88.8 474.2h0M85.1 495.7h0M84.7 441.3h0M89.9 521.2h0M89.7 472.2h0M87.2 526.5h0M87 508.8h0M86.9 451.8h0M87.2 445.3h0M89.9 514.9h0M85.3 480.1h0M89.7 523.9h0M88.2 530.2h0M87 501.8h0M85 454.6h0M86.7 506.4h0M87.7 503.6h0M90.2 480.2h0M86.3 453h0M89.9 452.4h0M86.6 484.1h0M87.2 453.2h0M85.3 475.4h0M83.9 440.1h0M87.8 493.2h0M89.9 523.7h0M89.3 527.2h0M87.7 483h0M86.9 475.3h0M88.3 441h0M83.7 460.7h0M88.8 481.9h0M86.7 479h0M85.9 500.4h0M85.8 438.1h0M89.7 488.1h0M89.2 477h0M79.5 438.7h0M86.2 494.6h0M81.8 443.5h0M86.4 473.1h0M89.8 491.3h0M85.5 472.2h0M84.9 492.7h0M86.3 474.1h0M84.8 474.3h0M88.3 490.4h0M90.2 509.2h0M88.3 471.2h0M85.9 479.6h0M89 522.6h0M89.4 527.8h0M85.7 525.4h0M81.4 438.5h0M88.6 476.7h0M87.6 479.2h0M85.4 510.3h0M85.2 502.3h0M88.5 460.9h0M87.2 502.8h0M89.3 465.4h0M83.9 463.5h0M83.6 460.8h0M85.7 515.1h0M86.2 530.8h0M87.7 466.5h0M86.4 466.7h0M84.9 447h0M81.9 439.4h0M86.5 524.6h0M88.3 463.1h0M86.6 522h0M88.7 473.2h0M88.3 513.3h0M84.1 454.2h0M88.8 510h0M89.2 523.3h0M85.4 477.6h0M88.8 522.8h0M88.7 492.5h0M86.5 474.1h0M87.6 492.4h0M90.1 505.3h0M87.1 518.6h0M90 472.9h0M89.2 475h0M85.3 445.9h0M89.3 486.7h0M85.8 521.5h0M88.4 496.4h0M89 451.6h0M90.2 490.3h0M86.8 454.9h0M88.2 468.1h0M87.7 495.6h0M87.3 468.3h0M89.7 472.8h0M87.4 481.4h0M85.3 461.9h0M86.7 528.9h0M88.2 520.6h0M85.9 531.4h0M89.2 527.7h0M88.8 491.7h0M87.4 506.6h0M86.2 498.1h0M86.8 439.1h0M89.9 482.7h0M89.2 462.4h0M89.8 532h0M85.9 529.9h0M84.3 452.9h0M85 471.8h0M82.4 451.5h0M86.9 526.9h0M87.4 497.3h0M89.4 508.6h0M87.6 473.9h0M83.8 446.4h0M85.4 458.5h0M87.7 468.2h0M86.2 469h0M85.1 517.1h0M79.5 437.5h0M88.4 520.4h0M90.2 507.1h0M89.8 458h0M87 460.4h0M89.3 502.6h0M86.8 460.9h0M83 441.4h0M89.9 531.5h0M89.2 493.1h0M86.8 523.9h0M87.4 531.4h0M86.6 452.3h0M88.7 494.2h0M85.2 501.6h0M90 498.5h0M90.3 501.5h0M89.3 486.3h0M89.5 450.5h0M89.7 479h0M88 467.9h0M88.8 518.5h0M90.2 496.7h0M82 445.5h0M90.2 490.1h0M86.7 503.1h0M85.5 447.4h0M87.4 483.3h0M86.4 496.6h0M86.6 521.8h0M84.6 447.3h0M85.9 527.1h0M89.9 463.7h0M89.4 470.5h0M89.2 441.4h0M84.6 459.8h0M90.3 508.5h0M89.1 529.4h0M90.3 525h0M85.7 490.2h0M87.1 518.8h0M87.2 467.1h0M79.9 440.4h0M87.7 462.5h0M90.2 509.2h0M90.1 515.8h0M89 498.3h0M85.4 493.6h0M88 443h0M88.8 456.5h0M84.8 481.7h0M87.3 491.1h0M83.2 444.1h0M86.2 466.5h0M85.9 505.1h0M88.1 479.7h0M85.6 528.1h0M82.7 444.6h0M84.4 458.2h0M82.8 444.3h0M86.7 458.5h0M86.9 499.4h0M83.2 453.2h0M84.8 462.3h0M89.7 483.3h0M86.1 506h0M80.5 440.5h0M86.7 479h0M85.4 502.7h0M88.2 461.5h0M87.7 491.7h0M85.6 523.8h0M87.1 455.8h0M90.3 491.4h0M88.2 531.1h0M88.8 510.1h0M87 449.8h0M86.3 466.4h0M82.4 452.1h0M88.9 519.2h0M86.6 509.4h0M85.6 477.2h0M89.5 495h0M90 512h0M88.4 462.1h0M86.4 449.2h0M86.3 447.6h0M86.8 489.2h0M88.6 470.7h0M87.1 483.3h0M84 447.9h0M90.2 518.6h0M89.6 472.9h0M86.2 521.1h0M88.4 463.4h0M90.1 466.5h0M88.8 472.2h0M86.1 505.1h0M86.8 520.4h0M81.9 447.6h0M88.3 480.5h0M89.3 463.1h0M89.4 462.8h0M82.5 440.2h0M86 452.4h0M86.7 470.8h0M88.1 519h0M87.1 495.3h0M87.7 514.8h0M89.9 508.8h0M87.3 495.9h0M89.8 462.4h0M89.3 510.7h0M86.3 458.3h0M86.3 522.1h0M87.9 515.4h0M85.9 458.1h0M87.2 444.3h0M85.1 507h0M88.9 466h0M86.9 456.3h0M88.1 514.6h0M89.6 448.8h0M88 508.9h0M87.8 469.1h0M85.2 474.7h0M82.1 448.8h0M84.5 453.4h0M88.1 498.2h0M89.4 493.9h0M84.8 446.2h0M84.8 444.6h0M81.5 444.6h0M84.9 447h0M86.5 510.5h0M86.3 508.4h0M86.9 464.7h0M85.1 444.2h0M89.4 493.2h0M88.4 442.4h0M88.1 491.9h0M89.2 441.9h0M87.4 463.7h0M89.9 488.9h0M90.4 494.9h0M88 459.4h0M87.7 492.5h0M88 497.4h0M88.2 469.4h0M85.5 445h0M85.9 480.6h0M88.6 491.7h0M84.3 449h0M86.4 443h0M83.1 444.9h0M87.3 480.1h0M89.8 440.2h0M87.6 459.2h0M87.5 458.4h0M86.2 471h0M88.1 482.7h0M88.7 494.6h0M84.3 462.9h0M85.8 461.4h0M87.2 495.5h0M84.7 467h0M85.5 494.5h0M88.7 486.8h0M85.8 497h0M90 471.3h0M87.4 445.7h0M88.2 479h0M85.2 474.9h0M84.9 491.2h0M89.3 520.2h0M87.6 473h0M90.3 487.8h0M83.1 441.2h0M89.2 476.2h0M87.3 507.3h0M86.4 438.1h0M85.2 476.2h0M87.4 497.8h0M85.7 466.5h0M86.2 487.2h0M90.1 474.9h0M86.2 483h0M89.9 487.2h0M88.7 520.4h0M89.1 523.6h0M87.3 502.5h0M88.2 451.4h0M90.2 498.1h0M89.6 467.9h0M90 458h0M85.3 532.9h0M90.4 468.3h0M88.6 530.2h0M82 450h0M90 461h0M87.3 514.5h0M89.9 510.3h0M89.6 465.9h0M85.9 463h0M81.7 441.3h0M85 490h0M85.8 489.6h0M85.7 509.1h0M85 456.9h0M89.4 493.1h0M89 509.5h0M87.9 502.6h0M85.3 470h0M87.2 520.2h0M85.3 499.6h0M84.9 471.8h0M88.8 471.1h0M88.4 469.9h0M85.1 448.9h0M87.5 476.5h0M88.3 459h0M89.4 522h0M84.9 440h0M87.8 470.1h0M87.8 445h0M90.1 477.1h0M83.9 438.8h0M89.4 483.9h0M86 509.8h0M88.7 466.6h0M86.1 477.4h0M89.6 526.6h0M87.7 471.2h0M86.2 526.5h0M89.8 524.5h0M88.7 507h0M87.9 503h0M86 493.1h0M88.6 491.2h0M88.6 483.8h0M89.3 481.1h0M85.5 506.4h0M86.5 511.1h0M82 444.8h0M87.4 468.2h0M85.4 468.8h0M87 511.1h0M86.3 521.2h0M86.9 503.4h0M88.5 518.8h0M85.5 502.3h0M86.9 509.4h0M89.6 508.3h0M81.9 448.8h0M90.2 510h0M87.4 523.7h0M85.1 517.3h0M86.2 442.6h0M89.4 487.8h0M86.6 459.5h0M86.6 532.3h0M88.1 475.9h0M86 532.8h0M87.2 503.5h0M86 475.6h0M88 481.8h0M87.5 474.8h0M89.6 498.2h0M87 491h0M85.9 529.6h0M89.4 441.4h0M84.7 462.6h0M86.5 474.1h0M89.5 471.2h0M84.7 465h0M90 457.8h0M86.7 478.3h0M90.1 511.9h0M89.4 486.1h0M86 462.5h0M86.2 492.5h0M85 463.5h0M89.3 462.3h0M85.6 513.5h0M88.7 470.6h0M88 519.8h0M86.3 507h0M89.4 512.3h0M85.9 476.2h0M86.4 440.2h0M85 497.9h0M90.1 487.1h0M81 439.8h0M84.7 442.6h0M89.6 474.1h0M82.5 443.4h0M85.1 527.3h0M86.3 462h0M82.1 437.1h0M88.3 495.1h0M88.5 495.6h0M85.1 496.2h0M88.1 500.1h0M86.2 458h0M89.5 459.9h0M84.9 463.8h0M89.1 513.7h0M88.7 519.1h0M87.3 477.1h0M88.2 490.5h0M86.4 528h0M85.1 511h0M90 455.3h0M87 461.2h0M88.5 525.3h0M88.7 484h0M90.1 531.2h0M83.8 454.5h0M84.8 464.7h0M89.5 510.6h0M82.7 450.6h0M88.4 468.2h0M87.5 511.2h0M90 498.5h0M85.6 521.8h0M89.2 505.7h0M87.3 524.4h0M86.1 452h0M86.7 472.7h0M88.5 514.3h0M88.5 502.5h0M82.6 450.6h0M89.5 475h0M89.3 499.5h0M89.2 496.9h0M88.9 532.9h0M90.3 520h0M89.4 508.3h0M81.2 444.6h0M86.3 525.9h0M84.8 466.4h0M85.1 498.1h0M86.6 514h0M89.9 508.6h0M87.3 503.5h0M89.6 497.2h0M86.4 505.5h0M89 437.7h0M85.3 497h0M88.1 490.1h0M89.7 465.3h0M84.4 460.1h0M86.2 466.8h0M88.5 522.1h0M85.1 448.7h0M87.7 446.9h0M85.5 519.3h0M86.2 485.1h0M88.7 464.4h0M86.5 531.1h0M86.6 489.2h0M86.4 443h0M87.9 452h0M85.8 509h0M86.1 494.4h0M86.5 510.5h0M88.5 503.4h0M86.1 492.4h0M86.9 517.3h0M87.6 511.2h0M88.8 480.2h0M88.9 469.8h0M88.9 479.8h0M90.1 504.2h0M86.6 476.4h0M87.8 532.8h0M88.7 477.3h0M90.1 461.1h0M88.5 509.6h0M89.2 465.1h0M89.3 525.5h0M85.5 524.9h0M89.7 508.4h0M85.2 482.9h0M86.2 489.3h0M89.7 440.1h0M88.4 517.2h0M88.6 509.1h0M85.4 481.6h0M87.2 464.8h0M86.6 493.1h0M84.8 449.3h0M89.9 454.9h0M86 458.3h0M86.3 489.2h0M87.9 484.7h0M89.9 441.7h0M85.7 488.8h0M85.9 531.6h0M87.6 507.1h0M86.2 461.8h0M86.9 483.3h0M86.4 460.8h0M88.6 479h0M83.2 456h0M85.4 517.3h0M87.9 497.8h0M86 530.9h0M85.7 522.5h0M87.7 453.5h0M87.1 453h0M85.7 502h0M87.3 513.1h0M85.1 530.1h0M86.8 444.6h0M86.3 461.8h0M86.9 524.5h0M81.6 441.9h0M89.2 490.5h0M87.5 510h0M84.3 460.1h0M84.7 458.5h0M87.2 524.4h0M87.2 448.2h0M84.9 481h0M90.1 531.4h0M89.3 462.3h0M88.5 480.8h0M88.9 499.9h0M85.5 479.4h0M87.4 514.5h0M89 479.6h0M90.3 503h0M88.2 474.4h0M82 445.1h0M85.5 461.5h0M86 480h0M87.3 527.2h0M89.8 473.8h0M89.2 513.6h0M89 525h0M90.2 466.4h0M89.3 439.6h0M86.5 477.4h0M87 482.7h0M89.4 519.9h0M86.3 508.9h0M85.1 479.4h0M85.2 508.5h0M85.4 475.1h0M90 519.1h0M89.6 464.9h0M88.2 454.1h0M86.6 461.1h0M86.9 495.8h0M87.3 456.1h0M90.4 513.5h0M85.7 468h0M82.7 444.4h0M82.2 439.5h0M85.6 506.9h0M86.6 499.2h0M86.7 459h0M87.2 479h0M86.6 448.3h0M85.1 523.9h0M86.5 444.8h0M85.7 467.7h0M86.7 532.1h0M88.3 525.7h0M82.5 439.9h0M85.9 444.3h0M85.3 524.5h0M79.9 439.7h0M84.8 463.3h0M89.2 530.2h0M88.1 527.5h0M88.8 516.1h0M88.1 465.1h0M86.9 464.9h0M86.2 516.2h0M89.2 453.8h0M85.7 481.6h0M85.8 467.6h0M87.6 523.3h0M87.5 525.6h0M89.9 527.5h0M89.2 491.7h0M84.6 464.7h0M85.2 495.2h0M88.2 482h0M89.8 510.9h0M89.4 456.7h0M88.3 484.8h0M89.5 481.5h0M84 465.9h0M88.6 516.9h0M85.7 506h0M87.6 456.9h0M88.6 509h0M88.5 494.4h0M85.9 451.2h0M88.8 468.7h0M88.8 486.8h0M89.9 503.9h0M85.3 519.5h0M87 501.3h0M85.7 446.7h0M89.3 518.2h0M83.2 447.2h0M90.2 503.9h0M81.6 444.4h0M88.3 504h0M86.1 515.1h0M89.3 484.6h0M86.8 473.8h0M88.2 440.2h0M86.8 480h0M89.6 500.1h0M86.8 520.4h0M87.1 495.6h0M89.3 517.8h0M89.4 500.7h0M88 486.1h0M88.1 452.7h0M87.5 464.8h0M83.4 437.2h0M88.4 496.3h0M86.3 491.3h0M88.6 500h0M87 493.8h0M86.8 451.6h0M89.5 442h0M86 471h0M85.3 480.4h0M90.3 522.1h0M88.1 516.3h0M86.8 527.6h0M85.7 481.8h0M90 477.9h0M87.9 500.9h0M88.4 488.6h0M87.4 495.7h0M85.4 486.2h0M88.5 479.7h0M85.2 458.5h0M85.7 514.5h0M89 455.8h0M84.3 448.6h0M87.2 524.7h0M89.1 515.7h0M81.7 438.9h0M86.7 524.8h0M90 475.9h0M90.1 447.6h0M88.4 499.3h0M86.1 437.1h0M87.1 516.2h0M82 444h0M84.8 444.5h0M85.3 515.7h0M86.9 476.1h0M87.6 475.3h0M86 488.5h0M87.8 513.5h0M90.2 470.9h0M85.9 505h0M88.1 530.3h0M85.7 469.8h0M83 443.5h0M86.1 464.8h0M88.2 532.1h0M85.6 455.5h0M85.1 478.6h0M87.6 482.1h0M87.3 524.6h0M88.7 503.3h0M87 453.8h0M85.6 480.2h0M90.4 439.3h0M89.3 445.7h0M84.9 472.3h0M88.6 529.9h0M89.4 476h0M87.2 505.2h0M89 506.1h0M88.2 453.6h0M88.7 525.3h0M90.3 514h0M87.5 513.7h0M89.1 491.1h0M85.3 497.9h0M83.1 442.8h0M86.2 515.8h0M89.3 467.7h0M84.2 449.4h0M83.9 461.7h0M86.7 508.5h0M86.5 476.3h0M88.9 443.3h0M84.4 450h0M86.9 506.4h0M86.7 485.8h0M86.6 490.9h0M84.8 481h0M84.9 438.5h0M90.4 515.7h0M87.8 514.3h0M88.6 499h0M90.4 507.3h0M87 470.1h0M86.2 512h0M89.5 446.2h0M89.2 438.5h0M85.9 525.1h0M86.6 509.7h0M90.3 463.1h0M89.1 522.4h0M90.3 479h0M90.3 491.9h0M85.2 506.5h0M89.5 513.9h0M88.4 521.8h0M89 440.6h0M85.7 477.6h0M84.5 457.1h0M85.4 515.5h0M85.1 525.4h0M86.2 506.6h0M85.8 486.6h0M85.8 523.6h0M88.2 482h0M85.9 480.6h0M90 464.9h0M81.9 449.1h0M89.8 524.5h0M87.5 503h0M87.2 528.7h0M84 438.2h0M87.9 488h0M85.4 522.5h0M87.8 519.3h0M87.2 507.5h0M86.1 465.5h0M86.8 463.4h0M89.5 494.6h0M86.1 453.8h0M89.4 488.2h0M88.4 505.4h0M87.4 501.9h0M89.5 514.7h0M85.5 491.5h0M86.1 478h0M85.1 455.5h0M86.9 515.9h0M86.8 478.4h0M87.1 454.8h0M90 477.1h0M90.3 496.6h0M87.6 519.7h0M81.6 438.6h0M88.1 448.5h0M87.4 450.3h0M87.1 468.1h0M86.6 509.9h0M84.8 453.5h0M88 527.9h0M84.8 464.6h0M83.9 443.6h0M87.4 496.1h0M90.4 515.2h0M86.8 491.9h0M85.5 513.5h0M89.8 510.1h0M85.5 511.7h0M89.3 493h0M89.5 476.6h0M86.7 453h0M89.2 490.8h0M86.1 476.7h0M85.6 505.6h0M87.2 472.4h0M87.3 512.9h0M88.6 491.1h0M90.2 502.1h0M88 481.6h0M81.4 438.9h0M85 461h0M85.9 487h0M89.4 491.9h0M83 444h0M85.1 484.8h0M86.9 450.8h0M89.8 475.5h0M89.1 491.9h0M86.6 470.3h0M88.3 519.2h0M86.4 525.1h0M87.6 448h0M82.4 449h0M88.5 474.6h0M88.9 471.7h0M86.3 480.8h0M88.2 488.5h0M87.1 451.4h0M90.1 453.2h0M86 488.2h0M82.2 441.1h0M87.7 467.7h0M88.8 500.9h0M88.3 479.5h0M86.5 490.3h0M86.1 458.1h0M85.7 503.4h0M85.1 498.2h0M87.9 454.7h0M89.1 514.8h0M86.4 502.8h0M88.2 532.1h0M90.1 524.6h0M90.2 460h0M86.9 444.8h0M84.2 461.7h0M86.1 491.8h0M87.5 512.7h0M83.8 463h0M88.4 503.6h0M87.1 514.5h0M85.1 525.1h0M89.1 525.5h0M90.3 446.9h0M88.1 445.6h0M88.3 460.5h0M85.6 517.6h0M89.7 468.3h0M85.6 483h0M82.2 445.4h0M84.6 447.2h0M87.4 511.8h0M84.5 446.5h0M87.3 483.6h0M88.7 498.8h0M87.9 509h0M87.9 439.9h0M88.9 512.4h0M89.7 479.1h0M88 446.3h0M88.8 494.4h0M90.1 443.5h0M81.5 439.9h0M88 486.8h0M84.9 454.1h0M86.7 525.1h0M85.3 479.9h0M88.8 491.8h0M86.3 508.3h0M88.3 472.6h0M89.2 530.7h0M83.6 458.1h0M87.5 468.6h0M89 463.2h0M84.4 461.7h0M89.1 495h0M85.5 456.7h0M83.8 462h0M85.3 502.8h0M88.4 495.9h0M85.1 488.1h0M85.3 440.6h0M84.9 484.2h0M87.8 438h0M88.6 468.2h0M84.9 456.1h0M86.1 523.5h0M87.5 476.3h0M86.7 505.6h0M86.2 499.5h0M85.1 502.6h0M83.2 455h0M88.1 446.8h0M89.2 481.7h0M86 530.9h0M90.2 511h0M84.5 466.8h0M87.8 481.5h0M88.1 503.3h0M85 466.1h0M87.1 469.7h0M85 454.9h0M87.3 522.1h0M87.5 449.1h0M87.4 471.2h0M85.2 474.8h0M88.1 508h0M85 532.2h0M87.3 492.6h0M88.8 478.9h0M86.2 460.3h0M86.7 449.8h0M84.9 479.1h0M86.1 459.2h0M85.4 488.2h0M89.4 496.6h0M84.6 469.1h0M88.4 451.1h0M85.6 488.3h0M89.1 453.2h0M88.7 502.4h0M90.3 450.5h0M86 461.5h0M90 459.5h0M88 497.8h0M88.7 476.9h0M87.3 482.1h0M89 451.6h0M89.5 443.4h0M87.8 525.3h0M84.2 452.7h0M87.9 450.5h0M90.3 471.9h0M86.3 469.9h0M89.7 502.2h0M85.5 487.7h0M88.2 453.4h0M90.3 510.7h0M89.2 492.2h0M88 502h0M86.1 514.8h0M84.8 451.7h0M90.1 474.1h0M89 516.4h0M87.1 522.9h0M89.9 531.8h0M85.6 454.8h0M85.2 466.7h0M87.1 527.3h0M88.2 520.7h0M84.7 442.8h0M86.7 512.1h0M84.5 465.2h0M90.1 482.7h0M89.1 438.8h0M86.5 494.8h0M90 523.5h0M87.5 530.7h0M88.4 476.9h0M86.9 522.6h0M86.7 469h0M88.6 439h0M87.4 481.1h0M89.4 497.9h0M86.8 504.9h0M86.1 465.4h0M89.4 488.2h0M85.9 437.8h0M88 518.3h0M82.3 468.8h0M73.8 493.3h0M58.2 485.6h0M80.7 470.4h0M81.3 485.2h0M80 463.8h0M78.1 475.5h0M69.6 454.8h0M69.3 492.2h0M64.8 518.7h0M61.4 529.5h0M79.7 446.6h0M69.4 501.2h0M75.4 533.3h0M80.9 499h0M72.2 496.9h0M74.7 485.6h0M83.7 491.5h0M64.7 510.1h0M75.8 524.9h0M73.3 512.2h0M75.1 532h0M84.7 513.2h0M73.1 442h0M73.9 475.1h0M53.7 447.2h0M81.4 529.7h0M84.5 510.2h0M79.4 506.8h0M73.9 528.2h0M69.9 438.3h0M82.9 533.2h0M62.7 474.7h0M63.3 455.3h0M77.3 502.3h0M79.9 512.5h0M79 443h0M66.3 489.6h0M79.3 449.4h0M57.8 505.5h0M65.1 476.9h0M83.8 499.1h0M73.4 442.8h0M49.2 487.8h0M74.5 470.1h0M84.3 496.8h0M80.2 479.4h0M83.4 462h0M71.7 510.5h0M84.8 504h0M80.3 477h0M65.7 456h0M81.2 527.9h0M61.4 529.3h0M83.8 468h0M68.6 458.1h0M71.7 477.3h0M67.5 488.2h0M64.2 497.8h0M66 448.8h0M76 488.7h0M74.9 443.8h0M83.3 521.9h0M72.4 497h0M62.5 491.7h0M82.3 486.3h0M54.5 486h0M83.9 470.3h0M77.8 494.5h0M72 494.2h0M74.8 504.1h0M81.8 449.6h0M82.1 452.5h0M77.4 501.3h0M81.4 450.5h0M70.2 451.8h0M67.6 445h0M78.4 472.5h0M79.4 514.7h0M74.7 484h0M80.3 494.2h0M76.5 466.7h0M80.5 516.6h0M84.4 511.9h0M78.8 443.9h0M84.9 521.2h0M69.2 462.9h0M83 516.6h0M79.4 441.7h0M63.3 493.5h0M73 490.8h0M77.8 486.1h0M80.7 501.2h0M78.6 450.8h0M77.7 440.9h0M71 504.5h0M79.4 439.7h0M77 523.5h0M78.9 441.6h0M81.8 477.4h0M71.9 469.2h0M81.9 457h0M84.7 519.4h0M81.7 498.5h0M83 457.9h0M64.9 455.7h0M64.2 462.4h0M71.5 499.7h0M81.7 492.9h0M48.3 480.7h0M73.2 464.9h0M83.1 490.5h0M56.8 453.2h0M78.5 445.9h0M70.5 444.8h0M84.4 486.9h0M61.1 439.1h0M79.1 479.6h0M82.3 481.1h0M67 515.8h0M49.9 481.2h0M73.7 441.1h0M68.4 492.7h0M83.2 496h0M80.7 473.1h0M80.3 507.5h0M78.1 480.8h0M79.9 465.8h0M77.1 474.4h0M84.7 497.2h0M49 446h0M83 521.5h0M79.7 476h0M77.4 440.6h0M60.7 455.2h0M77.3 511.2h0M77.9 456.3h0M78.2 438h0M84.2 500.4h0M59.4 508.9h0M70.9 528.4h0M84.1 498.1h0M70.7 445.1h0M81.8 463.1h0M72.7 446.1h0M81.2 515h0M70.7 530.3h0M69.2 496.7h0M80.2 445.3h0M79.8 469.1h0M78.3 487.3h0M80.9 521.6h0M70.2 504.6h0M64.2 469.9h0M81 477.3h0M83.1 499.9h0M80.8 477.3h0M80 471.8h0M84.2 489.6h0M82.4 484h0M77.4 494.7h0M79 456.1h0M58 495.7h0M81.6 456.8h0M83.4 464.9h0M77.4 439.9h0M81 489.4h0M82.2 454.9h0M48.5 440.4h0M82.2 461.2h0M77.2 449.4h0M69.6 462.2h0M74.4 444.8h0M81.5 454.9h0M81 498.3h0M59.7 529h0M82.9 496.3h0M82.2 474.5h0M79.5 532.8h0M76.6 529.6h0M65.8 468h0M79 508.9h0M80 486.1h0M80.5 476.1h0M81.9 453h0M82.6 489h0M83 519.2h0M82.8 456.2h0M79.8 498.2h0M64.3 448.3h0M59.7 490.4h0M79.8 445.1h0M74.7 510.8h0M76.7 513.5h0M80.6 529.5h0M84.1 484.1h0M77.8 437h0M80 494h0M71.5 511.7h0M79.7 444.3h0M80.5 528.3h0M49.2 438.8h0M81 446.5h0M78.3 500.5h0M77.7 446.8h0M78.8 516h0M75.4 485.4h0M83.9 475.3h0M67.4 489.6h0M56.7 455.2h0M68.2 462.8h0M76.3 520.2h0M70 519h0M51 478.6h0M78.5 455.3h0M76.3 440.2h0M76.6 443.5h0M81.3 529.9h0M75.7 451.5h0M71.9 475h0M84.5 479.5h0M77.1 443.8h0M52.9 488.7h0M83.5 512.4h0M84.1 520.7h0M70.9 437.2h0M81.1 501.5h0M84.1 513h0M83.1 530.1h0M77.7 485.5h0" stroke="#e40e0e" stroke-width="2.1" stroke-linecap="round" fill="none"/>
<path d="M99.8 520.8h0M99.7 497.8h0M101.8 460h0M98.6 456.1h0M100 469.7h0M98.6 515.8h0M99.1 495h0M102.1 480h0M97 499.4h0M99.3 520.2h0M97.5 529.8h0M100 529.4h0M99.3 496.8h0M100.8 530.1h0M98.8 487.5h0M99.6 474.4h0M98.5 454.3h0M100.6 500.7h0M97.6 524.3h0M98 466.8h0M98.4 497.3h0M97.3 467.8h0M101.3 511.5h0M100.5 450.1h0M101 512.6h0M97.2 470.8h0M100.3 510.8h0M102.4 475.1h0M99.6 506h0M97.3 493.8h0M101.6 529.4h0M102.3 452.9h0M98.9 492.8h0M97.5 493.9h0M98.8 470.7h0M99.4 502.6h0M100.9 439.5h0M98.9 474h0M100.8 512.8h0M101.3 528.6h0M99.8 484.1h0M99.4 495.1h0M98.2 440.7h0M100.5 513.7h0M98.1 466.9h0M101.2 491.8h0M103.2 442.3h0M98.6 458.7h0M97.8 479.5h0M97.4 508.7h0M100.4 484.7h0M99.5 516.9h0M102.9 449.5h0M97 527.4h0M99.8 525.1h0M98.8 494.5h0M101.1 452.7h0M97 522.2h0M100.1 490.4h0M97 525.5h0M97.6 472.6h0M102.4 466.9h0M99.4 454.3h0M100.4 516.1h0M97.5 525.3h0M98.8 443.9h0M100.4 484.6h0M101.6 448.3h0M103.2 458.4h0M97.6 490.5h0M99.2 517.2h0M99.5 511.2h0M98.2 522.2h0M97 530.4h0M97.8 473.3h0M97 532.1h0M99.3 464.8h0M104.7 444.3h0M99.5 511.2h0M98 476.1h0M99.8 452.9h0M101.1 496.1h0M102.5 460.4h0M97.7 500.7h0M97.2 440.1h0M98.1 529.8h0M102.8 443.4h0M102.8 463.5h0M101.2 500.9h0M100.5 499.7h0M99.2 481.4h0M97.8 512.2h0M105 443.3h0M100.1 473.9h0M101.1 475h0M97.8 511.8h0M98.4 511.4h0M99.3 491.8h0M98.9 518.5h0M101.3 516.5h0M101 492.4h0M98 522.4h0M101.7 480.5h0M100.9 510.3h0M98.8 495h0M98.5 512.8h0M98 493.1h0M99.4 475.6h0M97.7 448h0M101.5 522.3h0M99.5 452.6h0M97.6 501.9h0M104.9 443.4h0M102.8 464.2h0M99.9 487.1h0M99.5 489h0M100.8 462.8h0M101.5 479.4h0M98.1 464.9h0M99.4 519.9h0M102 459.1h0M101.3 464.6h0M98.3 500.2h0M99.3 498.8h0M109.6 439.9h0M99.3 462.1h0M100.1 521.8h0M101.4 453.4h0M108.1 439.1h0M100.2 495.2h0M98.7 491.7h0M99.1 500.1h0M97.1 509.1h0M97.9 462.5h0M100.1 486.3h0M103.1 458.2h0M97 472.7h0M97.4 506.9h0M102 438.4h0M98.2 482.2h0M97.7 468.8h0M101.5 471.4h0M100.4 467h0M97.7 457.2h0M97.1 467.6h0M100.6 482.6h0M98.1 477.6h0M101.8 468.3h0M99 460.2h0M98.1 503.2h0M97.7 526.5h0M103 439.4h0M99.8 489h0M101.5 468.2h0M99.2 518.4h0M100.7 516h0M97.9 454.2h0M97.5 449.7h0M98.7 511.8h0M100.9 450.6h0M97.2 465.5h0M101.4 476.9h0M101.6 504.9h0M102 482.7h0M99.7 473.8h0M99.1 508.8h0M101.9 453.1h0M98.6 525.2h0M98.6 477.1h0M99.3 503.3h0M102.8 459.1h0M111.6 438.4h0M97.3 520.2h0M107.6 438.6h0M97.8 493.2h0M97.4 478.7h0M99.8 476.8h0M98.7 523.2h0M103.7 452.3h0M97.6 498.4h0M100.4 442.8h0M99.3 460.3h0M102.6 463.2h0M100.1 515.2h0M103.3 445.7h0M101.7 475.3h0M98.3 441.9h0M102.9 449.5h0M100.4 528.8h0M97.2 466.7h0M97.7 529.8h0M99.1 515.1h0M99.3 469.6h0M97.9 444.4h0M99 520.5h0M98.5 501.7h0M101.1 483.4h0M98.8 499.2h0M102.2 481.4h0M101.9 440.1h0M97.7 449.5h0M104.4 442.1h0M99.8 481h0M99.3 466h0M101.3 480.5h0M98.3 445.8h0M100.2 453.3h0M100.5 483h0M101.2 532.2h0M99.5 460.1h0M100.9 488.1h0M97.7 486.3h0M100.3 441.8h0M97.8 495.4h0M99 480.8h0M100.2 529.5h0M99.3 531h0M102 484.3h0M100 476.3h0M99.3 439.3h0M98.4 464.6h0M101.7 478.7h0M97.2 457.2h0M98.7 491.2h0M104.8 441.5h0M100.4 527.3h0M100.5 514h0M97.6 531.2h0M100.2 521.5h0M100.9 528.4h0M100.2 490.2h0M99 460.7h0M99.8 451.4h0M98.5 516.6h0M97.8 521.9h0M98 499.3h0M100.7 498.3h0M100.5 521.6h0M101.9 450.7h0M100 465.3h0M100.1 450.6h0M97.5 500.4h0M101.3 493.7h0M98.6 487.7h0M100 456.9h0M100.8 475h0M100.2 508.3h0M100.7 510h0M98.1 506.9h0M98.9 492.6h0M102.2 444.4h0M101.9 450.7h0M97.3 488.8h0M99.9 477.6h0M102.9 461h0M97.4 528.6h0M98.9 506.1h0M101.3 517.3h0M100.2 485.2h0M100.7 472.4h0M98.5 532.4h0M109.5 439.9h0M106.2 439.6h0M98.9 492.8h0M97.5 526.5h0M102.3 460h0M102.5 437.7h0M99.8 453.3h0M101.4 507.9h0M97 460.5h0M101.2 508.5h0M107.6 438.4h0M99.7 494.2h0M98.3 497.4h0M97.9 523.1h0M101.4 528h0M98.7 517.1h0M97.9 528.2h0M99.5 484.3h0M104.1 450.5h0M100.2 454.4h0M99.2 445.3h0M100.1 517h0M100.6 472.1h0M101.5 453.4h0M97 522.7h0M98.5 465.9h0M104.3 445.5h0M99.9 503.4h0M100.2 496h0M98.1 464.5h0M98.2 444.4h0M102.3 456.1h0M99.2 468h0M101.5 508.2h0M101.5 447h0M97.9 477.2h0M101.5 469.7h0M100.4 462.9h0M97 480.9h0M101 519.8h0M99 517.5h0M100.6 478.3h0M99.2 532h0M99.8 465.7h0M100.1 492.1h0M99.6 527.5h0M99.1 516.2h0M101.8 480.6h0M98.8 464.4h0M97.5 489.7h0M100.5 452.9h0M101.7 498.7h0M97.2 447.9h0M101.2 503.3h0M99.3 445.9h0M100 502.6h0M100 520.7h0M98.3 528.3h0M99.7 508.8h0M100.9 474.9h0M99.6 518.4h0M98.9 505.9h0M98.7 519.8h0M99.8 497.1h0M101.6 486.4h0M99.7 504.8h0M100.3 505.7h0M98.8 468.9h0M97.6 495.7h0M100.5 515.1h0M98.5 498.8h0M100.4 531.2h0M100.3 520h0M98.3 490.8h0M102.5 454.4h0M98.1 496.9h0M100.2 457.1h0M100.6 498.1h0M98.2 483.2h0M97.5 502.2h0M99.5 453.5h0M97 491.1h0M102.1 450h0M99.4 476.6h0M97.8 482.4h0M101.2 529.9h0M97.3 498.1h0M100.8 503.2h0M97.8 469.3h0M99.9 507h0M98.6 474.8h0M97.3 526.4h0M99.8 466.9h0M98.2 493.8h0M97.5 494.2h0M97.3 488.2h0M100.9 474.6h0M97.9 456.2h0M98.9 530h0M100.9 442.5h0M102 463.2h0M100.5 521.7h0M99.7 501.9h0M103 442.6h0M98.5 474.3h0M98.1 491.4h0M99.7 532.1h0M97.4 509.1h0M98.9 440.5h0M100.7 454.8h0M101.3 500.2h0M100.8 446.2h0M98.9 500.5h0M97.7 443.9h0M103.3 437.9h0M103.6 452.5h0M97.4 497.7h0M99.3 501.1h0M97.8 517h0M99.7 470.4h0M97.6 486.3h0M97.6 517h0M99.9 481.6h0M98.7 479.2h0M99.4 506.5h0M100.6 502.8h0M99.2 526h0M101.9 477.2h0M101 530h0M103 456.6h0M99.4 499.3h0M98.1 449.6h0M98.3 520.4h0M99.2 482.6h0M99.3 474.1h0M102.5 464h0M98.4 486.5h0M102.2 457.5h0M100.8 513h0M98.5 494.3h0M99.4 457.4h0M99.1 445.6h0M97.6 470.5h0M97.8 451.6h0M102.1 474.5h0M97.4 529.4h0M96.9 494.3h0M99.9 501.2h0M98.3 486.4h0M97.1 481.8h0M100.7 500.1h0M105.1 445.2h0M103.2 454.1h0M98.9 531.3h0M99.5 518h0M101.2 463.2h0M97.8 471.6h0M97.8 511.3h0M97.8 527h0M101.7 468.1h0M98.8 517.5h0M101.6 495.7h0M98.5 465h0M102.2 447.1h0M97.5 503.5h0M98.3 506.3h0M99.8 486.2h0M99.7 493.2h0M100.8 475.5h0M102.7 457.3h0M101.2 474.4h0M99.1 495.6h0M99.7 482.8h0M100 477.3h0M101.3 482.9h0M101.7 462.2h0M101.6 476.6h0M97.3 516.7h0M100.7 526.3h0M97.8 500.1h0M99.7 517.2h0M101.1 459.3h0M102.2 448.6h0M99 455.6h0M102.4 439.2h0M100.1 495.4h0M98.4 477.1h0M99.7 446.2h0M101.3 512.3h0M97.3 525.7h0M99.6 449.3h0M97.2 490.8h0M103.5 445.6h0M99 533h0M100.2 513.3h0M98.9 511h0M97.5 526.5h0M100.9 462.6h0M102.3 461h0M100.6 516.1h0M99.9 521.6h0M99.2 454.6h0M105.9 437.4h0M100.3 498.2h0M98.1 505.8h0M99.5 525.9h0M103.2 457h0M100.2 501.8h0M96.9 495.5h0M100.6 490.1h0M97.9 501.1h0M100.7 482.7h0M98 523.8h0M97.2 492.2h0M99.5 453.9h0M102.8 438.6h0M98.3 520.9h0M97.6 451.5h0M98.9 490.2h0M98.9 497.3h0M99 487.8h0M97 464.8h0M101.5 464.2h0M101.4 470.2h0M104.6 441h0M98.1 516.5h0M98.4 473.5h0M101.9 479h0M97.4 504.1h0M100.1 533h0M100.9 515.4h0M100.6 525.5h0M101.6 463h0M98.9 501.4h0M97 520.8h0M101.5 485.6h0M98.9 488.2h0M98.4 447.4h0M103.1 462.5h0M98.5 489.8h0M99.8 522.4h0M100.9 465.4h0M104.2 439.5h0M97.3 487.7h0M97 500.6h0M101.9 455.7h0M100.9 475.7h0M99.3 488.9h0M97 494.1h0M118.9 437.3h0M97.8 503.5h0M101.4 503.8h0M99.9 517.6h0M100.1 487.6h0M100 454.6h0M98.6 521.3h0M100.2 462.8h0M101.1 515.3h0M101.4 533.2h0M100.4 447.4h0M100.3 490.2h0M99.7 447.7h0M100.3 473.2h0M98.7 472.5h0M101.4 454.9h0M98.1 466.7h0M98.7 524.8h0M97.5 464.5h0M98.7 487h0M98.5 493.3h0M97.6 482.2h0M105.4 443h0M98.9 507.7h0M101.4 456.2h0M100 495.1h0M98.6 531.2h0M98.9 526.4h0M101.5 530.9h0M99.6 477h0M101.1 523.2h0M100.9 446.2h0M103.6 446.5h0M99 463h0M101.2 467.8h0M99.5 468.2h0M99 521.1h0M101.2 525.4h0M98.1 480.7h0M99.5 527.4h0M97.2 471.2h0M97.1 481.7h0M98.8 497.4h0M98.2 465.1h0M101.2 509.9h0M107.6 437.8h0M97.2 444.5h0M98.4 531.7h0M101.5 488.4h0M98.6 498.9h0M100.7 504.6h0M98.8 499.2h0M98.7 509.8h0M98.5 471.9h0M97.5 530.8h0M99.8 442.1h0M99.6 448.9h0M101.4 527.4h0M98.8 459h0M102.2 475.7h0M101.7 462.5h0M101.2 498.6h0M102.7 463.7h0M98.8 533h0M100.3 527.1h0M99.8 458.7h0M102.7 461.2h0M102.6 459.1h0M102.4 463.7h0M100.4 513.4h0M101.4 462.9h0M98.6 497.4h0M101.4 532h0M101.3 499.9h0M97.9 469.2h0M100.2 469.3h0M100.8 523.8h0M102.2 460.2h0M99.6 522.2h0M99.4 484.7h0M98.6 456h0M99.6 485.8h0M99.2 488.1h0M97.7 518.8h0M103.4 454.1h0M100 493.4h0M99.2 482.4h0M100 470.8h0M97.1 516.6h0M97.8 527.7h0M101.2 484.1h0M101.7 449.8h0M99.6 495.3h0M97.5 516.9h0M102.9 458.2h0M97.5 528.4h0M97.4 501.6h0M101.3 527h0M99.2 503.5h0M99.6 499.8h0M100.8 516.4h0M100.8 519.9h0M98.3 458.3h0M99.6 504.1h0M97.2 530.2h0M101.7 475.9h0M97.6 480.2h0M102.6 468.5h0M100.9 511.3h0M102 462.1h0M101.8 437.5h0M100.1 497.3h0M102 480.9h0M98.5 472.6h0M101.9 456.6h0M100.8 515.6h0M97.1 496.9h0M97.8 476.9h0M97.1 464.3h0M98.1 503.8h0M101.7 491.2h0M98.8 459.7h0M97.3 461.7h0M99.7 491.6h0M101.7 494.7h0M100 492.5h0M101 522.8h0M100 487.4h0M99.7 472.4h0M99.7 483.5h0M100.8 459.7h0M98.8 464.3h0M101.6 466.5h0M105.6 443.8h0M101.3 452.9h0M101.4 459.4h0M98.9 519.5h0M102.1 482.1h0M98.7 493.7h0M102.4 459.2h0M98.4 504.3h0M97.6 485.7h0M101.2 511.8h0M100.3 507.1h0M103.6 449.5h0M101.3 494.3h0M101.1 508.9h0M100.4 514.8h0M98.3 494.7h0M102.7 461.2h0M98.1 513.8h0M103.7 447h0M108.1 438.3h0M98.9 505.1h0M99.9 525h0M100.1 532.6h0M97.3 490.7h0M97.5 521.9h0M100.9 463.6h0M101.4 502.9h0M101.2 528.1h0M98.7 513.1h0M97.6 506.7h0M102.8 468.2h0M101.4 498.6h0M101.1 453h0M101.8 454.7h0M99 526.3h0M102.3 438.7h0M100.6 445.4h0M101.5 514.2h0M97.8 463.8h0M100.1 441.5h0M98.2 461.8h0M98.2 522.2h0M98 452.3h0M99 506.8h0M100.9 474.4h0M99.2 497.8h0M98.4 496.7h0M100.6 478.6h0M103 439.1h0M98.7 473.8h0M100.5 485.3h0M100.6 508.2h0M97 496.7h0M101.2 460.8h0M101.3 448.3h0M111.3 438.5h0M100 453.1h0M98.2 448.6h0M99.7 482.4h0M97.9 520.2h0M98 521.9h0M102.3 474.9h0M98.2 486.5h0M101.3 480.6h0M97.4 520.8h0M98.8 486.6h0M100.5 445h0M101.4 465.4h0M104.5 438.6h0M99.4 470.2h0M102.2 478.7h0M98.8 503h0M99.5 469.5h0M99.7 526.9h0M97.9 528.8h0M100.6 487.2h0M97.4 516.5h0M101.7 476.1h0M97.6 496.1h0M99.6 477.5h0M107.1 437.2h0M102 482.7h0M99.6 486.9h0M97.2 444.4h0M100.3 481.3h0M100.7 458h0M99.1 446.2h0M98.5 487.2h0M100.7 479.8h0M101.4 454.2h0M100.8 529.6h0M100.5 473.1h0M102.4 447.9h0M98 509h0M100.3 473.6h0M99.9 500.4h0M101 509.1h0M97 482.2h0M97.4 514.6h0M100.6 488h0M99.4 514.7h0M101.6 498h0M98.2 511.2h0M100.1 527h0M98.6 466.1h0M99.6 479.7h0M99.1 518.4h0M98.5 505.5h0M98.6 482.2h0M100.8 474.8h0M100.1 459.3h0M96.9 508.5h0M101.2 476.4h0M100.9 500.2h0M100.8 461.8h0M97.4 466.7h0M98.3 512.7h0M100.6 507.6h0M98.3 514.6h0M98.1 514.2h0M96.9 501h0M97.2 512.6h0M99.9 506.2h0M102.2 443h0M100.8 505h0M98 531.5h0M98.9 478h0M97.8 500.8h0M98.1 490.9h0M101.9 457h0M100.8 489.8h0M101 500.8h0M97 482.9h0M98 533.3h0M97.8 516.3h0M98.4 486.2h0M97.3 500.3h0M100.9 443.9h0M99.1 518.8h0M104.4 448.4h0M99.3 447.2h0M98.3 491.5h0M98.9 504.3h0M97.3 513.5h0M101.2 516.2h0M98.4 461.5h0M98.8 522h0M100.2 475.3h0M101 489.9h0M100.3 501.5h0M99.7 478.5h0M101 519.3h0M99.8 495.9h0M99.8 466.2h0M100.2 455.9h0M99.3 442.8h0M99.8 464.5h0M97.4 502.7h0M100.7 498.7h0M97.9 453h0M101.8 446.8h0M97.1 475.2h0M99.6 448.2h0M104.7 442h0M102.4 455.6h0M100.9 440.4h0M97.6 526.5h0M106.7 440.5h0M99.2 513.7h0M99.1 449.1h0M102.1 479.8h0M101.3 457.6h0M101.1 505.1h0M98.7 501.9h0M99.5 479.6h0M99.5 493.7h0M102.9 446.9h0M100.5 472.1h0M99.6 467h0M97 532.9h0M97.8 498.6h0M100.8 528.9h0M100.9 517.1h0M99.9 470.1h0M99.1 525.8h0M100.7 527.5h0M99.7 484h0M98.3 487.1h0M99.4 470.7h0M101.4 488.3h0M99.8 483.7h0M100.7 505.1h0M100.4 530.7h0M100.5 494.7h0M102.4 448.8h0M102.7 458.1h0M99.9 521h0M97.1 527.3h0M101.1 444.3h0M97.1 456.1h0M98.9 529.4h0M98.2 517.9h0M97.2 497.9h0M100.4 496.6h0M99.3 496.4h0M98 508.1h0M98.3 502h0M100.2 443.3h0M97.7 509.5h0M98.6 511.6h0M97.3 484.4h0M101.6 453.1h0M98.2 525h0M101.1 503.3h0M101.4 518.5h0M102 447.4h0M97.2 465.1h0M101.9 485.1h0M98.4 470.2h0M100.1 532.4h0M97 452.1h0M97.6 444.9h0M100.2 522.4h0M99.9 454.5h0M101.5 480.3h0M96.9 530.7h0M105.2 439.6h0M100.9 442.3h0M99.4 498.4h0M98.9 454.9h0M97.7 489h0M98.1 526.5h0M97.8 518.3h0M101.2 485.1h0M97.6 501h0M99.3 461.9h0M101.9 485.7h0M99 470.6h0M98.1 488.7h0M96.9 517h0M101.3 509.3h0M101.4 468.9h0M100.6 507h0M99.6 501.1h0M99.5 464.3h0M101.7 448.1h0M97.2 486.6h0M99.4 447.7h0M98.2 455.9h0M98.5 511.5h0M105.2 443.2h0M100.8 528.8h0M102.1 480.5h0M99.9 524.4h0M100.4 504.1h0M101.4 489.7h0M100.4 520.2h0M99.1 505.1h0M102.6 469.5h0M101.6 492.8h0M98 458.4h0M100.1 508h0M99.7 477h0M100.1 526.5h0M98.3 490h0M99.6 453.3h0M101.2 466.3h0M100.9 532.6h0M98.8 464.2h0M101.1 494.6h0M98.6 466.4h0M101 483.1h0M97 480.8h0M101.2 503.1h0M97.1 503.6h0M100.2 463.1h0M97.3 484.8h0M99.4 464.4h0M102 485.5h0M99.4 506.1h0M97.5 437.9h0M99.6 511.6h0M97.5 502h0M99.3 531h0M100.3 492.3h0M100.8 497.9h0M97.3 457.2h0M101.2 477.7h0M98.8 509.7h0M100.6 508.9h0M101.5 513.6h0M100.8 481.5h0M98.3 525.2h0M98.5 531.8h0M97.6 501h0M97.5 455.3h0M97 498.5h0M100.8 483.5h0M98.1 463.1h0M97.9 529.7h0M99.2 493.4h0M99.9 524.3h0M98.2 483.5h0M98.4 517.7h0M100.2 515.1h0M101.9 490.3h0M99.8 499.1h0M97.7 505h0M96.9 479.3h0M97.2 450.1h0M98.5 492.2h0M99.7 453.7h0M97.2 528.5h0M103.6 447.8h0M101.3 458h0M97.2 445.5h0M100.6 496.4h0M100 456.4h0M102.8 452.4h0M101 450h0M97.9 528.1h0M99.3 507.2h0M101 519.9h0M99.3 485.1h0M100.3 511.1h0M102.5 468.8h0M98.2 485.5h0M99.1 475.1h0M98.7 485.1h0M102.1 481.1h0M98.1 532.6h0M99.2 466.7h0M98.3 459.3h0M99.1 483.7h0M101.3 444.5h0M101.9 482.6h0M99.9 519h0M97.5 487.4h0M101.5 499.1h0M101.3 530h0M98.5 508.1h0M98.4 454.5h0M97.5 475h0M102.8 466.4h0M100.3 508.9h0M100.5 452.2h0M101.7 484.3h0M98.4 501.5h0M97.6 462h0M100.2 485h0M102.1 475.4h0M99.5 509.4h0M100.6 475.1h0M100.4 503.6h0M99.3 467.2h0M97.8 459.7h0M98.5 466.8h0M99.9 464.3h0M101 474h0M101.4 461.8h0M99.3 522.7h0M97.3 514.6h0M97.4 462.2h0M98.9 484.5h0M98.1 483.5h0M106 440.4h0M97.8 527.3h0M98.6 508.1h0M99.8 508.4h0M101.6 509.8h0M102.3 464.2h0M102.2 456.8h0M98.3 452.2h0M98 478.4h0M97.1 514.7h0M100.2 470.3h0M101.5 514.1h0M97.9 488.6h0M100.9 459h0M103 451.2h0M100.3 518.1h0M99 530.5h0M97.8 529.4h0M100.3 461.7h0M96.9 522.5h0M98.7 519.4h0M100.9 520.1h0M99.6 522.4h0M99.2 448.6h0M100.7 471.1h0M99.8 469.7h0M100.5 471.8h0M99.7 451.7h0M98.2 521.6h0M101 483.9h0M99.1 503.8h0M104.3 444.1h0M100.6 525.6h0M101.1 510.7h0M99.1 521.1h0M99.5 474.8h0M98.3 449.9h0M100.5 503.3h0M99.7 503.7h0M99.6 451.9h0M101.4 528.6h0M99.2 465.4h0M99.4 454.8h0M98.4 480.1h0M97.3 524.3h0M97.3 479.2h0M101.3 471.6h0M101.4 446.7h0M99.8 492.1h0M100.1 485.4h0M98.6 462.4h0M97.7 511.7h0M101.1 516.3h0M98.3 491.8h0M99.7 479.1h0M101.4 504.1h0M98 478.1h0M102.6 466.8h0M98.6 457.4h0M104.6 440.1h0M101.3 482.4h0M100.1 498.8h0M99.1 502.9h0M97 465.6h0M97 475.2h0M99.4 457.6h0M98.9 487.3h0M101.9 457.8h0M99 467.6h0M97.4 458.5h0M99.1 509.7h0M101.3 490.3h0M99.6 522h0M99.5 528.1h0M99.1 521.8h0M100 462.6h0M99.6 452.5h0M99.9 459.1h0M100.4 445.9h0M101.9 491.9h0M100 533h0M100.9 480.8h0M100.1 525.8h0M101.1 455.4h0M101.7 485h0M101.6 501.1h0M104.2 441.5h0M100 457.9h0M101.6 518.3h0M102.6 458.4h0M99.2 449.7h0M103.4 458h0M103.1 447.3h0M100.6 487.4h0M100.6 445.4h0M98.4 490.4h0M97.3 499.6h0M102.3 444.7h0M102.3 462.4h0M101.3 491.5h0M100.2 518.9h0M98.1 531.5h0M97.6 491.1h0M100.8 505.5h0M99.4 523.2h0M98.7 526.2h0M101.1 471.1h0M97.3 525.5h0M99.2 486h0M98.3 440.2h0M101.4 516h0M98.1 491.9h0M98.9 531.3h0M102.7 449.8h0M100.2 504.4h0M98.5 474h0M100.8 459h0M101.3 467.2h0M100.9 525h0M104.7 440.3h0M99.8 442h0M100.3 465.7h0M99.4 441.2h0M97 527h0M99.8 470.2h0M99.1 447.5h0M98.5 497.1h0M101.7 490.7h0M102.2 446.3h0M102.4 439.4h0M101.5 506.2h0M100.2 481.6h0M97.5 484h0M101.4 445.7h0M98.1 521.2h0M99.9 509h0M100.8 469.4h0M99.2 443.2h0M100.5 473.7h0M97.4 440.5h0M99.4 526.3h0M101.6 523.4h0M99.6 453.1h0M96.9 532h0M101.6 531.6h0M98.8 509.7h0M97 502.2h0M97.1 470.9h0M100.6 478.2h0M110.9 438.9h0M98.8 445.6h0M97.5 474.5h0M100.1 509h0M99 493.8h0M98.8 494.3h0M101.2 501.1h0M98.6 511.5h0M98.4 522.3h0M100.5 502.4h0M101.6 476.6h0M97.5 530.8h0M100 441.4h0M110.5 439.5h0M97.9 462.9h0M101.7 493.4h0M101 521h0M98.7 456h0M102.6 445.5h0M100.7 471.3h0M106 440.2h0M104.2 449.4h0M100 462.9h0M99.9 516.1h0M104.6 444.8h0M100.5 507.8h0M97.7 486.2h0M98.4 500.1h0M98.4 517.2h0M99.5 501.6h0M101.8 451.8h0M97.2 530.4h0M100.1 493.6h0M98.4 517.8h0M100.4 516.9h0M102 455.4h0M98 480.2h0M99.1 460.4h0M97.6 508.2h0M100.9 498.9h0M101.6 486.9h0M99.4 506.3h0M99.5 530.1h0M98.4 451.3h0M100.9 516.3h0M98.9 474.9h0M102.6 456.8h0M101.3 532h0M101.7 479.7h0M97.4 456.5h0M98.6 491h0M97.3 483.3h0M100.3 453.8h0M100.6 485.8h0M98.7 508.1h0M98.4 480.5h0M99.8 452h0M101.9 493h0M100.8 508.2h0M101.3 516.5h0M97.7 525.4h0M98.5 467.6h0M99.2 514.3h0M99.6 528h0M100.1 439.7h0M97.6 475.8h0M97.1 491.1h0M97 460.4h0M102.2 448.5h0M101.9 485.5h0M98.3 449.7h0M98.7 442.8h0M99.5 465.4h0M98 461h0M97.2 473.6h0M99.6 516.3h0M99.3 486h0M101.9 490.5h0M100.1 473.9h0M99.5 457.2h0M103.8 446.1h0M100.6 502.5h0M97.5 510.4h0M97.6 498.2h0M97.6 496.5h0M97.8 452.2h0M97.5 488.7h0M99.3 472.1h0M100.6 532.1h0M100.6 493.3h0M103.9 438.1h0M101 464.6h0M103.9 449.5h0M102.1 468.2h0M99.1 518.8h0M99.7 437.2h0M101.1 474.2h0M101.8 482.9h0M98.4 524.3h0M99.4 532.3h0M97.2 444.1h0M99.3 472.4h0M103.1 454.4h0M101.6 466.8h0M99.8 457.9h0M101.2 473.9h0M98.2 472.2h0M100 517.6h0M98.6 453.4h0M103.4 446.5h0M101.5 477.4h0M100.9 493.2h0M99.1 509.8h0M99.4 461.7h0M102 488.2h0M101.4 464.6h0M100.9 461.7h0M96.9 507.8h0M101.1 507.2h0M101 524.1h0M97.7 473.8h0M102 469.9h0M99.3 502.1h0M98.5 437.6h0M101.3 490.4h0M98.7 495.8h0M101.5 437.6h0M98.3 496.3h0M97.1 488.7h0M99.2 489h0M109.1 439.1h0M97.4 512.8h0M101.1 497.3h0M100.8 486.4h0M97.3 448.8h0M101.9 459.7h0M102.1 464.8h0M101.2 443.4h0M101.3 479h0M100.5 501.5h0M97.7 495.5h0M100.3 510.3h0M99.1 507.4h0M97.7 477.8h0M99 515.5h0M98.2 528.9h0M98.7 483.6h0M101.7 495.5h0M99.4 458.4h0M97.5 465.4h0M108.6 440.5h0M101.1 468.8h0M99.9 512.4h0M101.1 462.5h0M99.1 525.7h0M101 522.9h0M100.2 511.3h0M99.3 529.4h0M97.3 525.6h0M97.5 505.3h0M100.2 472.6h0M100.2 503.7h0M97.5 454.3h0M101.4 450.7h0M103.2 454.2h0M98.4 502.5h0M97.3 497.7h0M97.7 495.2h0M98.3 497.9h0M100.5 490.3h0M97.3 458.2h0M103 450.7h0M99.6 528.7h0M101.8 445.1h0M97.9 469.6h0M101 508.8h0M99.8 488.4h0M96.9 528.1h0M101.3 519.5h0M99.5 518.7h0M99.2 522.8h0M99.7 472.4h0M97.2 441.2h0M99.9 486.9h0M103.6 443.7h0M98.4 451.5h0M101 482.8h0M101.6 484.1h0M99.6 510h0M98.5 520.7h0M100.1 492.8h0M99 445.8h0M98.3 531.6h0M97.1 524.6h0M98.4 461.1h0M114.4 437.2h0M100.7 459.5h0M101.4 446.2h0M99.4 484.7h0M98.6 513h0M100.8 505.9h0M98.8 460.5h0M97.8 496h0M110.4 437.5h0M97.4 504.8h0M99.3 491.9h0M101.7 486.2h0M98.9 441.2h0M102 444.9h0M99.4 520h0M103.2 440.1h0M97.6 447.6h0M102.1 466.2h0M101.6 504h0M97.9 483.4h0M97.4 472h0M100.3 475.5h0M101.6 500.2h0M97.4 473.4h0M97.7 520.1h0M97.7 468.3h0M101.1 505.4h0M100.8 457.3h0M106.7 439.4h0M99.2 451h0M99.2 490.2h0M97.1 511.6h0M98.2 457.3h0M101.7 474.3h0M101.4 529.8h0M98.3 454.9h0M100.5 464.7h0M99.3 517.4h0M104.8 440.6h0M98.8 496.7h0M98.1 488.6h0M100.5 465.9h0M98.8 472.7h0M103.3 450.8h0M101.4 486.8h0M97.3 494.1h0M99 440.5h0M97.9 472.6h0M102.2 470.7h0M98.2 438.6h0M100.4 505.6h0M97.4 461.8h0M101 469.6h0M100.1 463.6h0M101.7 479h0M98.6 496.4h0M97.6 474.9h0M97.8 513.6h0M99.4 447.9h0M99.5 500.9h0M108.4 437.9h0M100.4 508.3h0M97.4 456.8h0M98.1 472.9h0M100.1 529.1h0M101.9 466.5h0M97.1 494.8h0M98.6 457.9h0M99.9 525.2h0M102.7 455.2h0M102.5 474.4h0M97 490.3h0M100.6 475.9h0M100.5 478.8h0M97 446h0M102 446h0M102.3 458.4h0M97.5 513.1h0M103.2 442.6h0M101.2 504.4h0M97.1 470.7h0M99.7 509.7h0M98.3 528.9h0M98 437.9h0M98.6 522.2h0M97.1 444.2h0M98.7 498.5h0M99.8 508.5h0M100.9 459.3h0M100.6 475h0M98.8 460.7h0M97.8 453.3h0M100.3 475.8h0M97.8 493.4h0M99.4 474.4h0M101 458h0M97.5 469.8h0M97.7 502.8h0M101.4 471h0M101 449.3h0M98.2 493.9h0M100 447.9h0M99.4 459.4h0M99.8 450.5h0M96.9 525.7h0M99 492.1h0M100.5 518.4h0M98.3 480.5h0M100.8 527.8h0M97.3 522h0M99.5 474.9h0M98.3 465.4h0M97.9 468.3h0M101.1 529.1h0M99.7 496.8h0M99.2 532.4h0M97.1 510.4h0M97.9 477.9h0M103.8 445.2h0M98.6 507.4h0M102.9 448.7h0M101.4 470.9h0M100.5 495.3h0M101.7 494.6h0M102.5 460.2h0M100.3 497.1h0M97.1 531.8h0M101.4 462.8h0M98.1 513h0M101.4 482.4h0M101.5 530.8h0M99.4 457.1h0M99.5 478.4h0M99.2 519.8h0M100.8 465.3h0M99.8 512.9h0M101.5 526.3h0M101.1 508.9h0M101.6 445.4h0M100.8 439.3h0M100.3 498.9h0M100.9 516.8h0M99.7 463.2h0M97.9 511.3h0M97 521.8h0M97.1 473.3h0M102.1 464.1h0M98.9 531.7h0M108.6 456.7h0M108.2 452.8h0M110.1 457.9h0M102.6 527.1h0M104.9 530.1h0M134.9 441.1h0M106.1 527.2h0M102.7 476.8h0M128.2 518.7h0M132.4 462.4h0M106 512h0M117.2 482h0M103.1 474.7h0M104.8 454.4h0M131.2 452.9h0M108.1 457.2h0M113.3 519.6h0M103.8 517.1h0M107.9 454.3h0M105.1 467.8h0M106.1 492.1h0M107.7 486.9h0M106.7 484h0M106.6 459.6h0M107.6 530.7h0M131 450.8h0M111.4 529.2h0M110.5 454.9h0M103.1 509.4h0M128.5 437.8h0M101.7 527.1h0M106.6 519.6h0M109.7 495h0M119.1 458.1h0M116.8 439.3h0M116.8 440.3h0M105.9 519.1h0M109.6 506.7h0M103.3 504.6h0M114.9 522.1h0M105.6 446.5h0M107.6 489.2h0M112.5 501.4h0M118.7 458.7h0M109.9 502h0M108.5 471.7h0M110.2 484.8h0M110.1 441.5h0M106.8 502.2h0M119.3 494.9h0M107.1 497h0M108.4 528.1h0M103.6 465h0M105.2 458.2h0M122 455.2h0M105 501h0M105.5 446.5h0M112.4 445.7h0M113.9 522.3h0M110.2 462.8h0M104.4 482.3h0M104.9 503h0M110.6 482.2h0M104 485.8h0M108.1 477.9h0M106.1 469.5h0M108.6 510h0M107.1 452.8h0M117.7 452.5h0M112.8 485.1h0M103.7 499.4h0M119.1 518.6h0M129.8 514.5h0M109.8 504.8h0M104.4 479.7h0M112.9 471.8h0M104.5 472.8h0M112.5 465.4h0M118.9 528.6h0M108.6 459h0M103.8 483.9h0M102.5 477.9h0M119.8 518.4h0M108.6 513.2h0M115.2 461.9h0M109.3 480h0M109.6 519.8h0M117.2 512.6h0M121.8 491.8h0M118.9 485.6h0M111.2 511h0M106 515.8h0M111.3 497.5h0M105.8 530.1h0M113.3 458.5h0M106.5 529.2h0M105.6 523.9h0M124.7 440.9h0M120.4 478.3h0M116.3 479h0M111.3 452h0M105.8 457.8h0M111.8 479h0M125.7 441h0M130.4 517.9h0M108.8 450.7h0M110.5 443h0M105.6 483.5h0M109.7 442.7h0M107.1 524.9h0M102.5 503.1h0M107.3 465.7h0M108.6 468.1h0M136.3 439.2h0M110.6 465.9h0M103.7 462.2h0M111.6 499.9h0M131.4 439.1h0M112.5 440.2h0M109 477.7h0M103.9 466.9h0M118.3 520.7h0M104.1 454.1h0M109.7 465.2h0M102.7 492.9h0M109.8 478.9h0M124.5 489.9h0M114 457.8h0M126.2 461.5h0M114.6 501.3h0M118.5 439.9h0M104.9 451.4h0M122.8 437.1h0M103.2 514.9h0M125.4 490.5h0M107.1 518.8h0M131.2 438.6h0M121.4 527.1h0M117.2 508.7h0M104.9 517.9h0M105.1 481.3h0M103.3 528h0M104.4 491.8h0M112.3 441.9h0M110.5 495.2h0M105.8 502.7h0M106.7 516.8h0M110.3 532.8h0M105.3 480.6h0M102.3 492h0M103.7 506.2h0M101.9 515.9h0M107 475.5h0M116.9 470.3h0M105.3 449.8h0M103.8 490.8h0M103.4 465h0M107 443.7h0M108.7 476.2h0M128 522.1h0M131.7 463h0M107.3 497.9h0M112.1 530.4h0M115.7 439.3h0M107.8 472.5h0M114 461.7h0M116.2 469.1h0M106.7 519.2h0M113.4 504.5h0M122 498.6h0M103.9 478h0M109.6 516h0M107.3 530.8h0M102.1 501.4h0M118.9 523.3h0M107.7 473.6h0M112.4 478.2h0M116.4 532.1h0M106.7 450.5h0M123 519.8h0M107.4 500h0M105.9 447.1h0M113.5 499h0M107.1 476.9h0M119.1 462.5h0M112.5 448.9h0M107 486.4h0M106 504.4h0M110.5 526.6h0M115.6 474.6h0M107.9 508.7h0M106 444.9h0M114 456.4h0M131.5 498.7h0M117.3 496.4h0M122.4 506.8h0M125.7 472.8h0M119.1 530.9h0M106.4 456.1h0M105.3 502.7h0M110.7 459.2h0M122.9 446.9h0M116.2 459.5h0M106.2 458.9h0M121.9 438.7h0M111.4 447.9h0M112.5 514.4h0M102.2 527.7h0M106.5 491.1h0M104.5 463.5h0M117.2 465.3h0M106 456.5h0M101.7 524.2h0M109 454.4h0M104.4 480.7h0M108.8 476.8h0M117.8 480.2h0M105.1 478.4h0M105.3 530.5h0M105.6 447.3h0M102.6 482.5h0M110.9 441.6h0M118.9 503.5h0M113.6 511.2h0M130.5 488.7h0M102.2 513.1h0M108 457.7h0M119 505.8h0M115.1 472.2h0M124.1 499.5h0M113.8 503.8h0M105.7 456.9h0M133.9 442.6h0M101.9 514.9h0M105.2 505.9h0M114.5 472.2h0M108.4 480.4h0M121 439.7h0M121.6 458.2h0M112.9 471.7h0M109 463.2h0M129.9 521.1h0M101.9 511.1h0M110.5 442.4h0M117.1 446.9h0M107.4 443.7h0M104.4 481.2h0M104.1 464.4h0M105.9 490.8h0M129 466h0M105 465h0M102.5 499.4h0M103.8 513.1h0M103.8 478.6h0M110.4 450.3h0M114.5 439.3h0M125.4 442.2h0M102.1 515.3h0M103.2 487.1h0M116.2 506.6h0M119.6 467.9h0M105 464.7h0M122.6 461.1h0M109.1 455.4h0M106.3 453.2h0M113.8 477.3h0M106.6 503.8h0M122 459.6h0M105.4 464.8h0M106.1 457.5h0M110 437.9h0M110.4 437.3h0M110.7 437.6h0M111.1 437.4h0M111.4 437.4h0M111.8 437.6h0M112.2 437.5h0M112.5 438h0M112.9 437.3h0M113.3 438.2h0M113.6 438.2h0M114 438.3h0M114.3 437.3h0M114.7 437.3h0M115.1 438.3h0M115.4 437.3h0M115.8 437.4h0M116.2 437.4h0M116.5 437.9h0M116.9 438.2h0M117.2 437.3h0M117.6 437.6h0M118 437.7h0M118.3 438.3h0M118.7 437.9h0M119.1 437.8h0M119.4 437.7h0M119.8 437.6h0M120.1 437.5h0M120.5 438h0M139.5 437.9h0M140.1 437.8h0M140.7 437.8h0M141.3 437.7h0M141.9 437.6h0M142.6 437.6h0M143.2 437.5h0M143.8 437.4h0M144.4 437.4h0M145 437.3h0M139.3 438.1h0M138.5 438.8h0M137.6 439.4h0M136.8 440.1h0M136.3 441.5h0M135.7 442.8h0M135.2 444.2h0M134.8 445.6h0M134.4 446.9h0M134 448.3h0M133.7 449.4h0M133.5 450.4h0M133.2 451.5h0M133.1 453.4h0M132.9 455.3h0M132.8 457.2h0M132.3 459.1h0M131.8 461h0M131.3 462.9h0M131.4 464.1h0M131.4 465.4h0M131.5 466.6h0M129.9 475.5h0M129.5 485h0M130.5 497h0M129 510h0M124.6 438.9h0M126.2 439.7h0M130.7 438.5h0M121 441.8h0M117.7 444.6h0M121 444.6h0M127 447.9h0M120.2 457.6h0M125.9 458.4h0M117.3 470.6h0M115.7 476h0" stroke="#1414dc" stroke-width="2.1" stroke-linecap="round" fill="none"/>
<text x="226.8" y="404.6" text-anchor="middle">SDF-1 response</text>
<rect x="174.2" y="412.6" width="106.6" height="20.8" fill="none" stroke="#000" stroke-width="1.6"/>
<line x1="208" y1="412.6" x2="208" y2="433.4" stroke="#000" stroke-width="1.5"/>
<line x1="226.5" y1="412.6" x2="226.5" y2="433.4" stroke="#000" stroke-width="1.5"/>
<line x1="262.3" y1="412.6" x2="262.3" y2="433.4" stroke="#000" stroke-width="1.5"/>
<text x="190.8" y="426.6" text-anchor="middle">down</text>
<text x="217.3" y="421.6" text-anchor="middle" font-size="8.3">110</text>
<text x="217.3" y="430.9" fill="#d8202c" style="stroke:#d8202c" text-anchor="middle" font-size="8.3">58</text>
<text x="245" y="426.6" text-anchor="middle">up</text>
<text x="271.6" y="421.6" text-anchor="middle" font-size="8.3">64</text>
<text x="271.6" y="430.9" fill="#d8202c" style="stroke:#d8202c" text-anchor="middle" font-size="8.3">9</text>
<line x1="175" y1="435.5" x2="175" y2="539" stroke="#000" stroke-width="1.8"/>
<line x1="170.8" y1="436.8" x2="175" y2="436.8" stroke="#000" stroke-width="1.4"/>
<text x="168.9" y="437.4" text-anchor="end" font-size="8.7">0.00</text>
<line x1="170.8" y1="456.3" x2="175" y2="456.3" stroke="#000" stroke-width="1.4"/>
<text x="168.9" y="456.9" text-anchor="end" font-size="8.7">0.01</text>
<line x1="170.8" y1="475.8" x2="175" y2="475.8" stroke="#000" stroke-width="1.4"/>
<text x="168.9" y="476.4" text-anchor="end" font-size="8.7">0.02</text>
<line x1="170.8" y1="495.2" x2="175" y2="495.2" stroke="#000" stroke-width="1.4"/>
<text x="168.9" y="495.8" text-anchor="end" font-size="8.7">0.03</text>
<line x1="170.8" y1="514.7" x2="175" y2="514.7" stroke="#000" stroke-width="1.4"/>
<text x="168.9" y="515.3" text-anchor="end" font-size="8.7">0.04</text>
<line x1="170.8" y1="534.2" x2="175" y2="534.2" stroke="#000" stroke-width="1.4"/>
<text x="168.9" y="534.8" text-anchor="end" font-size="8.7">0.05</text>
<line x1="174.1" y1="537.6" x2="275.9" y2="537.6" stroke="#000" stroke-width="1.8"/>
<line x1="175.5" y1="537.6" x2="175.5" y2="541.6" stroke="#000" stroke-width="1.4"/>
<line x1="185.5" y1="537.6" x2="185.5" y2="541.6" stroke="#000" stroke-width="1.4"/>
<line x1="195.5" y1="537.6" x2="195.5" y2="541.6" stroke="#000" stroke-width="1.4"/>
<line x1="205.5" y1="537.6" x2="205.5" y2="541.6" stroke="#000" stroke-width="1.4"/>
<line x1="215.5" y1="537.6" x2="215.5" y2="541.6" stroke="#000" stroke-width="1.4"/>
<line x1="225.5" y1="537.6" x2="225.5" y2="541.6" stroke="#000" stroke-width="1.4"/>
<line x1="235.5" y1="537.6" x2="235.5" y2="541.6" stroke="#000" stroke-width="1.4"/>
<line x1="245.5" y1="537.6" x2="245.5" y2="541.6" stroke="#000" stroke-width="1.4"/>
<line x1="255.5" y1="537.6" x2="255.5" y2="541.6" stroke="#000" stroke-width="1.4"/>
<line x1="265.5" y1="537.6" x2="265.5" y2="541.6" stroke="#000" stroke-width="1.4"/>
<line x1="275.5" y1="537.6" x2="275.5" y2="541.6" stroke="#000" stroke-width="1.4"/>
<text x="185.5" y="551.8" text-anchor="middle" font-size="8.3">-4</text>
<text x="205.5" y="551.8" text-anchor="middle" font-size="8.3">-2</text>
<text x="225.5" y="551.8" text-anchor="middle" font-size="8.3">0</text>
<text x="245.5" y="551.8" text-anchor="middle" font-size="8.3">2</text>
<text x="265.5" y="551.8" text-anchor="middle" font-size="8.3">4</text>
<line x1="176" y1="533.8" x2="274.4" y2="533.8" stroke="#7a7a7a" stroke-width="1.5" stroke-dasharray="1.1 0.6"/>
<text x="226" y="568.5" text-anchor="middle" font-size="9">log<tspan font-size="7.3" dy="2.8">2</tspan><tspan dy="-2.8">(SDF-1/basal)</tspan></text>
<circle cx="184.4" cy="584.8" r="2.5" fill="#d0182a"/>
<text x="189.8" y="588.4" font-size="8.8">Impaired in <tspan font-style="italic">Srf</tspan>KO<tspan dy="-4.5" font-size="8.5">H</tspan></text>
<path d="M194.8 439.8h0M194.1 445.4h0M191.7 450.7h0M203 452.3h0M198.2 456.7h0M182.5 463.1h0M198 462.8h0M205.9 461.8h0M194.8 466.3h0M195.3 470.7h0M204.9 467.8h0M190.2 474.7h0M205.4 480.8h0M209.3 485.7h0M194.6 487.9h0M198.6 488.1h0M202 486.6h0M194.7 488h0M196.9 490.1h0M199 488.3h0M201.8 486.9h0M193.6 492.9h0M200.9 494.1h0M209.4 492h0M185.9 498.1h0M203.4 501h0M203.9 504.1h0M206.2 504.1h0M207.6 502.7h0M181.9 510h0M196.2 514.4h0M202.2 513.9h0M190.8 518.1h0M207.6 522.8h0M204.8 525.3h0M201.1 529.3h0M202.9 528.4h0M205.7 528.1h0M261.5 440.5h0M267.8 441.2h0M267.3 442.7h0M254.8 448.3h0M255.3 450.9h0M256.2 451.8h0M263.2 449.4h0M238.9 454.7h0M238.4 456.2h0M237.4 461.8h0M272.2 459.3h0M260.6 463.1h0M243.5 469.9h0M259.1 472.6h0M253.1 477.9h0M258.6 480.1h0M261.3 480.8h0M259.9 482.7h0M252.9 484.4h0M258 486.6h0M261.8 486.1h0M267.8 487.1h0M245.2 493.7h0M254.9 492.9h0M262.5 491.6h0M257.2 496.7h0M251.8 500.3h0M249.8 506.9h0M251.3 509.4h0M246 510h0M243.4 507.4h0M256.2 506.4h0M257.9 511h0M259.6 512.7h0M249.8 517.4h0M248.7 522.7h0M251.3 521.7h0M255.9 520.8h0" stroke="#000" stroke-width="1.7" stroke-linecap="round" fill="none"/>
<circle cx="175" cy="451.8" r="2" fill="#a8101c" stroke="#700010" stroke-width="0.5"/>
<circle cx="184.6" cy="451.4" r="2" fill="#a8101c" stroke="#700010" stroke-width="0.5"/>
<circle cx="196.2" cy="437.3" r="2" fill="#a8101c" stroke="#700010" stroke-width="0.5"/>
<circle cx="198.6" cy="437.3" r="2" fill="#a8101c" stroke="#700010" stroke-width="0.5"/>
<circle cx="200.6" cy="437.8" r="2" fill="#a8101c" stroke="#700010" stroke-width="0.5"/>
<circle cx="202" cy="440.2" r="2" fill="#a8101c" stroke="#700010" stroke-width="0.5"/>
<circle cx="203" cy="442.7" r="2" fill="#a8101c" stroke="#700010" stroke-width="0.5"/>
<circle cx="204.7" cy="444.6" r="2" fill="#a8101c" stroke="#700010" stroke-width="0.5"/>
<circle cx="207.3" cy="437.3" r="2" fill="#a8101c" stroke="#700010" stroke-width="0.5"/>
<circle cx="211.7" cy="445.1" r="2" fill="#a8101c" stroke="#700010" stroke-width="0.5"/>
<circle cx="211.2" cy="448.5" r="2" fill="#a8101c" stroke="#700010" stroke-width="0.5"/>
<circle cx="206.9" cy="447.5" r="2" fill="#a8101c" stroke="#700010" stroke-width="0.5"/>
<circle cx="206.4" cy="449.9" r="2" fill="#a8101c" stroke="#700010" stroke-width="0.5"/>
<circle cx="213.6" cy="451.8" r="2" fill="#a8101c" stroke="#700010" stroke-width="0.5"/>
<circle cx="200.1" cy="454.7" r="2" fill="#a8101c" stroke="#700010" stroke-width="0.5"/>
<circle cx="199.6" cy="456.2" r="2" fill="#a8101c" stroke="#700010" stroke-width="0.5"/>
<circle cx="212.2" cy="456" r="2" fill="#a8101c" stroke="#700010" stroke-width="0.5"/>
<circle cx="213.6" cy="462" r="2" fill="#a8101c" stroke="#700010" stroke-width="0.5"/>
<circle cx="213.6" cy="465.9" r="2" fill="#a8101c" stroke="#700010" stroke-width="0.5"/>
<circle cx="208.3" cy="468.3" r="2" fill="#a8101c" stroke="#700010" stroke-width="0.5"/>
<circle cx="208.8" cy="471.2" r="2" fill="#a8101c" stroke="#700010" stroke-width="0.5"/>
<circle cx="207.8" cy="473.6" r="2" fill="#a8101c" stroke="#700010" stroke-width="0.5"/>
<circle cx="200.1" cy="471.6" r="2" fill="#a8101c" stroke="#700010" stroke-width="0.5"/>
<circle cx="200.6" cy="475" r="2" fill="#a8101c" stroke="#700010" stroke-width="0.5"/>
<circle cx="215.1" cy="471.6" r="2" fill="#a8101c" stroke="#700010" stroke-width="0.5"/>
<circle cx="214.6" cy="477.4" r="2" fill="#a8101c" stroke="#700010" stroke-width="0.5"/>
<circle cx="209.7" cy="482.3" r="2" fill="#a8101c" stroke="#700010" stroke-width="0.5"/>
<circle cx="212.2" cy="483.2" r="2" fill="#a8101c" stroke="#700010" stroke-width="0.5"/>
<circle cx="206.6" cy="495.4" r="2" fill="#a8101c" stroke="#700010" stroke-width="0.5"/>
<circle cx="209.9" cy="494.8" r="2" fill="#a8101c" stroke="#700010" stroke-width="0.5"/>
<circle cx="215" cy="495.4" r="2" fill="#a8101c" stroke="#700010" stroke-width="0.5"/>
<circle cx="186.3" cy="505.7" r="2" fill="#a8101c" stroke="#700010" stroke-width="0.5"/>
<circle cx="208" cy="509.7" r="2" fill="#a8101c" stroke="#700010" stroke-width="0.5"/>
<circle cx="210.4" cy="512.5" r="2" fill="#a8101c" stroke="#700010" stroke-width="0.5"/>
<circle cx="213.6" cy="507.9" r="2" fill="#a8101c" stroke="#700010" stroke-width="0.5"/>
<circle cx="215.5" cy="511.6" r="2" fill="#a8101c" stroke="#700010" stroke-width="0.5"/>
<circle cx="216.4" cy="514.9" r="2" fill="#a8101c" stroke="#700010" stroke-width="0.5"/>
<circle cx="216.4" cy="517.6" r="2" fill="#a8101c" stroke="#700010" stroke-width="0.5"/>
<circle cx="212.2" cy="522.3" r="2" fill="#a8101c" stroke="#700010" stroke-width="0.5"/>
<circle cx="210.4" cy="526" r="2" fill="#a8101c" stroke="#700010" stroke-width="0.5"/>
<circle cx="210.8" cy="529.8" r="2" fill="#a8101c" stroke="#700010" stroke-width="0.5"/>
<circle cx="216" cy="526" r="2" fill="#a8101c" stroke="#700010" stroke-width="0.5"/>
<circle cx="215.8" cy="532.1" r="2" fill="#a8101c" stroke="#700010" stroke-width="0.5"/>
<circle cx="272.2" cy="437.8" r="2" fill="#a8101c" stroke="#700010" stroke-width="0.5"/>
<circle cx="270.7" cy="438.8" r="2" fill="#a8101c" stroke="#700010" stroke-width="0.5"/>
<circle cx="266.9" cy="442.7" r="2" fill="#a8101c" stroke="#700010" stroke-width="0.5"/>
<circle cx="264.9" cy="444.6" r="2" fill="#a8101c" stroke="#700010" stroke-width="0.5"/>
<circle cx="264" cy="446.5" r="2" fill="#a8101c" stroke="#700010" stroke-width="0.5"/>
<circle cx="259.9" cy="467.9" r="2" fill="#a8101c" stroke="#700010" stroke-width="0.5"/>
<circle cx="260.3" cy="475" r="2" fill="#a8101c" stroke="#700010" stroke-width="0.5"/>
<circle cx="245.7" cy="505.4" r="2" fill="#a8101c" stroke="#700010" stroke-width="0.5"/>
<circle cx="265" cy="514" r="2" fill="#a8101c" stroke="#700010" stroke-width="0.5"/>
<circle cx="254.3" cy="521.5" r="2" fill="#a8101c" stroke="#700010" stroke-width="0.5"/>
<text x="313" y="397.9" font-size="12.5">E</text>
<text x="414" y="404.3" text-anchor="middle" font-size="8.9">Positively regulated by SRF</text>
<circle cx="442.7" cy="473.8" r="41.2" fill="rgb(62,71,160)" fill-opacity="0.45"/>
<circle cx="445.5" cy="487.8" r="45.1" fill="rgb(231,44,44)" fill-opacity="0.45"/>
<circle cx="367.3" cy="482.1" r="45.6" fill="rgb(53,179,113)" fill-opacity="0.5"/>
<text x="361.3" y="430" fill="#2ea860" style="stroke:#2ea860" text-anchor="middle" font-size="8.9">LSK basal</text>
<text x="437.6" y="430" fill="#3b3b9b" style="stroke:#3b3b9b" text-anchor="middle" font-size="8.9">MEF basal</text>
<text x="442.6" y="547.2" fill="#d0202c" style="stroke:#d0202c" text-anchor="middle" font-size="8.9">MEF FCS-induced</text>
<text x="441.3" y="442.4" text-anchor="middle" font-size="8.9">131</text>
<text x="405.3" y="465.5" text-anchor="middle" font-size="8.9">12</text>
<text x="405.3" y="488.4" text-anchor="middle" font-size="8.9">53</text>
<text x="405.3" y="507.4" text-anchor="middle" font-size="8.9">31</text>
<text x="353.4" y="487" text-anchor="middle" font-size="8.9">1206</text>
<text x="441.6" y="487" text-anchor="middle" font-size="8.9">867</text>
<text x="441.6" y="527.3" text-anchor="middle" font-size="8.9">363</text>
</svg>
</body></html>
